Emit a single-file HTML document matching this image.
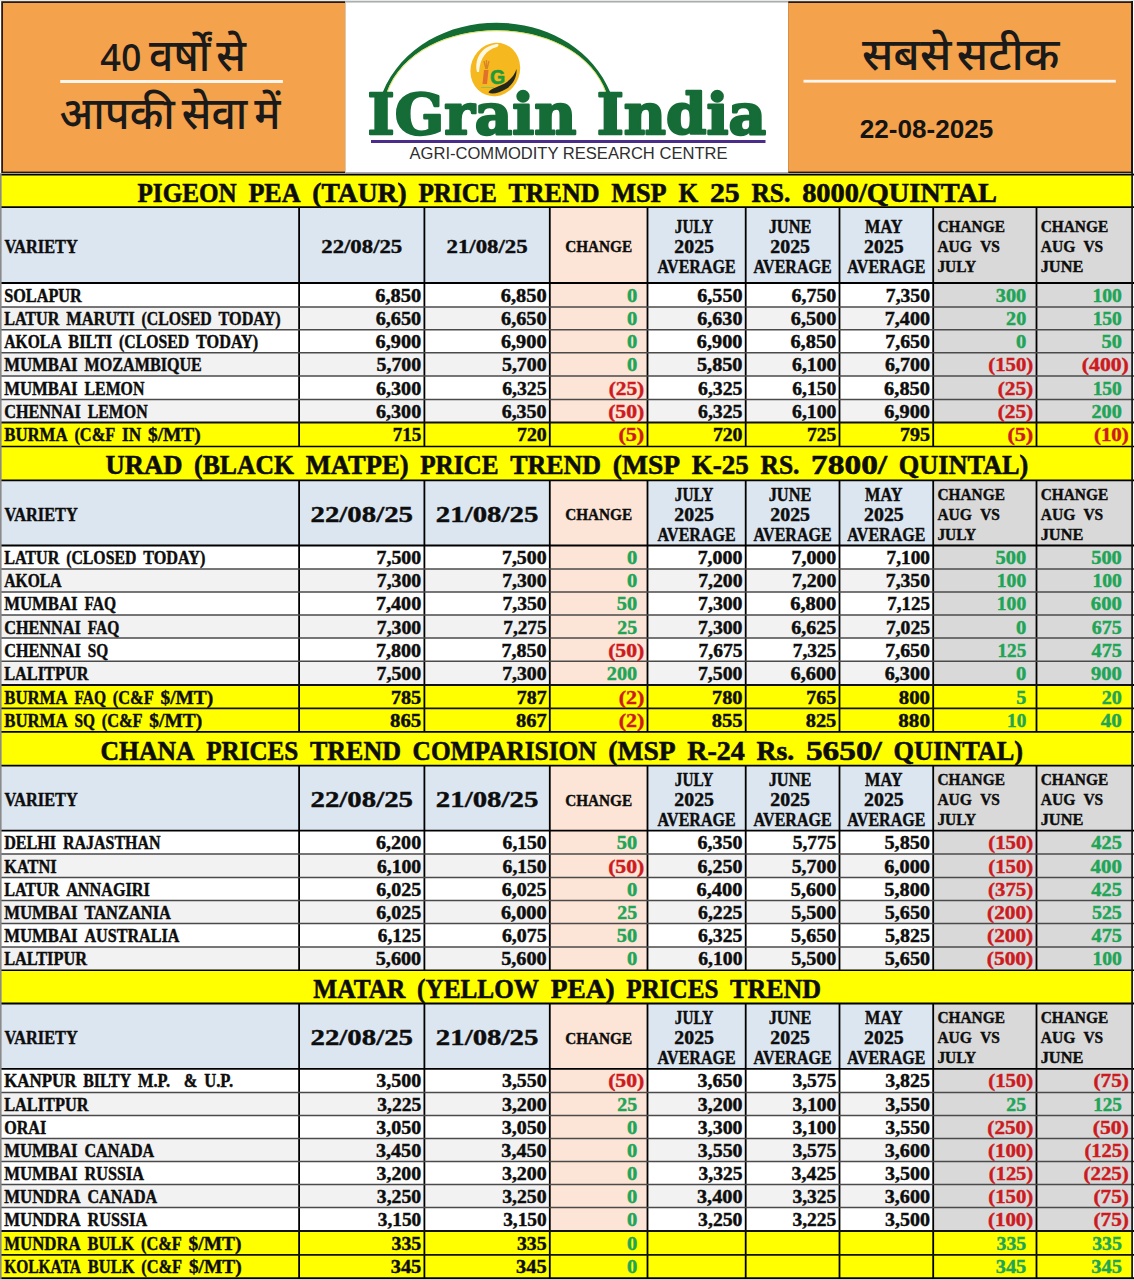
<!DOCTYPE html>
<html><head><meta charset="utf-8"><title>IGrain India - Pulses Price Trend 22-08-2025</title>
<style>
html,body{margin:0;padding:0;background:#fff;}
svg{display:block;}
svg text{font-family:"Liberation Serif","Noto Serif Devanagari",serif;font-weight:bold;white-space:pre;}
svg text.hi{font-family:"Liberation Sans","Noto Sans Devanagari","Mukta",sans-serif;font-weight:460;stroke:none;}
svg text.sans{font-family:"Liberation Sans",Arial,sans-serif;stroke:none;}
</style></head>
<body>
<svg width="1134" height="1280" viewBox="0 0 1134 1280">
<rect x="0" y="0" width="1134" height="1280" fill="#fff"/>
<g id="hdr">
<rect x="0" y="0" width="1134" height="1.2" fill="#e4e9ea"/>
<rect x="1.2" y="1.2" width="344" height="171.8" fill="#2b1a0a"/>
<rect x="3" y="3" width="342.2" height="168.6" fill="#F4A24C"/>
<rect x="345.2" y="1.3" width="443" height="1.1" fill="#8c8c8c"/>
<rect x="345.2" y="172.2" width="443" height="2" fill="#9a9a9a"/>
<rect x="788.2" y="1.2" width="344.6" height="171.8" fill="#2b1a0a"/>
<rect x="788.2" y="3" width="343" height="168.6" fill="#F4A24C"/>
<rect x="0" y="173" width="345.2" height="1.2" fill="#a0a0a0"/>
<rect x="788.2" y="173" width="345.8" height="1.2" fill="#a0a0a0"/>
<!-- left orange box -->
<text class="hi" x="100.6" y="71.2" font-size="38" fill="#1a1a1a" style="font-family:'Noto Sans Devanagari','Liberation Sans',sans-serif;font-weight:480" textLength="41" lengthAdjust="spacingAndGlyphs">40</text>
<text class="hi" x="149" y="71.2" font-size="44" fill="#1a1a1a" textLength="97" word-spacing="-6" lengthAdjust="spacingAndGlyphs">वर्षों से</text>
<rect x="60.2" y="80" width="222.7" height="3" fill="#fdf6ee"/>
<text class="hi" x="59.5" y="128.7" font-size="44" fill="#1a1a1a" textLength="221" word-spacing="-5" lengthAdjust="spacingAndGlyphs">आपकी सेवा में</text>
<!-- right orange box -->
<text class="hi" x="861.9" y="70.2" font-size="44" fill="#1a1a1a" textLength="197.5" word-spacing="-7" lengthAdjust="spacingAndGlyphs">सबसे सटीक</text>
<rect x="803.5" y="79.8" width="312.3" height="2.8" fill="#fdf6ee"/>
<text class="sans" x="859.8" y="138.2" font-size="25.4" fill="#141414" style="font-weight:bold" textLength="133.5" lengthAdjust="spacingAndGlyphs">22-08-2025</text>
<!-- logo -->
<path d="M382.4,93 C420.9,-0.7 572.1,-0.7 610.6,93 L606.6,93 C576.7,9.3 416.3,9.3 386.4,93 Z" fill="#126c33"/>
<path d="M386.9,93 C416.8,10 576.2,10 606.1,93" fill="none" stroke="#d5de3a" stroke-width="0.8"/>
<g transform="rotate(20 495.3 69.5)">
<ellipse cx="495.3" cy="69.5" rx="24.6" ry="27" fill="#F5B81E"/>
</g>
<path d="M477,72 C474,58 482,46 497,44 C499,44 499,46 497,47 C486,50 480,58 479,72 Z" fill="#fff8e0"/>
<path d="M488.5,92.5 C490,88 500,87 507,82 C512,78 515,74 516.5,69 C517,76 514,84 506,89 C500,92.5 492,95 488.5,92.5 Z" fill="#23281a"/>
<path d="M481,87.5 L494,87.5" stroke="#8fc050" stroke-width="1"/>
<path d="M484,70 L488.5,70 L487,84 L482.5,84 Z" fill="#e0702a"/>
<path d="M486,69 L484,61 M486.5,69 L486.5,60 M487,69 L489,61" stroke="#d9822a" stroke-width="1.3" fill="none"/>
<text x="490" y="84" font-size="19.5" fill="#1f9a3a" stroke="#1f9a3a" stroke-width="0.6" style="font-family:'Liberation Sans',sans-serif;font-weight:bold">G</text>
<text x="367.6" y="134.3" font-size="56" fill="#156c36" stroke="#156c36" stroke-width="2.4" stroke-linejoin="round" style="font-family:'DejaVu Serif','Liberation Serif',serif;font-weight:bold" textLength="398.5" lengthAdjust="spacingAndGlyphs">IGrain India</text>
<rect x="371" y="140" width="394.5" height="3" fill="#4a2d8a"/>
<text class="sans" x="409.5" y="158.7" font-size="16" fill="#2e2e2e" style="font-weight:normal" textLength="318" lengthAdjust="spacingAndGlyphs">AGRI-COMMODITY RESEARCH CENTRE</text>
</g>

<g>
<rect x="0.8" y="174.8" width="1131.3" height="32.3" fill="#FFFF00"/>
<rect x="0.8" y="207.1" width="298.3" height="75.9" fill="#DCE6F1"/>
<rect x="299.1" y="207.1" width="125.3" height="75.9" fill="#DCE6F1"/>
<rect x="424.4" y="207.1" width="125.4" height="75.9" fill="#DCE6F1"/>
<rect x="549.8" y="207.1" width="97.7" height="75.9" fill="#FCE4D6"/>
<rect x="647.5" y="207.1" width="98.2" height="75.9" fill="#DCE6F1"/>
<rect x="745.7" y="207.1" width="93.8" height="75.9" fill="#DCE6F1"/>
<rect x="839.5" y="207.1" width="93.7" height="75.9" fill="#DCE6F1"/>
<rect x="933.2" y="207.1" width="103.3" height="75.9" fill="#D9D9D9"/>
<rect x="1036.5" y="207.1" width="95.6" height="75.9" fill="#D9D9D9"/>
<rect x="0.8" y="283" width="298.3" height="23.9" fill="#FFFFFF"/>
<rect x="299.1" y="283" width="125.3" height="23.9" fill="#FFFFFF"/>
<rect x="424.4" y="283" width="125.4" height="23.9" fill="#FFFFFF"/>
<rect x="549.8" y="283" width="97.7" height="23.9" fill="#FCE4D6"/>
<rect x="647.5" y="283" width="98.2" height="23.9" fill="#FFFFFF"/>
<rect x="745.7" y="283" width="93.8" height="23.9" fill="#FFFFFF"/>
<rect x="839.5" y="283" width="93.7" height="23.9" fill="#FFFFFF"/>
<rect x="933.2" y="283" width="103.3" height="23.9" fill="#D9D9D9"/>
<rect x="1036.5" y="283" width="95.6" height="23.9" fill="#D9D9D9"/>
<rect x="0.8" y="306.9" width="298.3" height="22.9" fill="#F2F2F2"/>
<rect x="299.1" y="306.9" width="125.3" height="22.9" fill="#F2F2F2"/>
<rect x="424.4" y="306.9" width="125.4" height="22.9" fill="#F2F2F2"/>
<rect x="549.8" y="306.9" width="97.7" height="22.9" fill="#FCE4D6"/>
<rect x="647.5" y="306.9" width="98.2" height="22.9" fill="#F2F2F2"/>
<rect x="745.7" y="306.9" width="93.8" height="22.9" fill="#F2F2F2"/>
<rect x="839.5" y="306.9" width="93.7" height="22.9" fill="#F2F2F2"/>
<rect x="933.2" y="306.9" width="103.3" height="22.9" fill="#D9D9D9"/>
<rect x="1036.5" y="306.9" width="95.6" height="22.9" fill="#D9D9D9"/>
<rect x="0.8" y="329.8" width="298.3" height="23" fill="#FFFFFF"/>
<rect x="299.1" y="329.8" width="125.3" height="23" fill="#FFFFFF"/>
<rect x="424.4" y="329.8" width="125.4" height="23" fill="#FFFFFF"/>
<rect x="549.8" y="329.8" width="97.7" height="23" fill="#FCE4D6"/>
<rect x="647.5" y="329.8" width="98.2" height="23" fill="#FFFFFF"/>
<rect x="745.7" y="329.8" width="93.8" height="23" fill="#FFFFFF"/>
<rect x="839.5" y="329.8" width="93.7" height="23" fill="#FFFFFF"/>
<rect x="933.2" y="329.8" width="103.3" height="23" fill="#D9D9D9"/>
<rect x="1036.5" y="329.8" width="95.6" height="23" fill="#D9D9D9"/>
<rect x="0.8" y="352.8" width="298.3" height="23.3" fill="#F2F2F2"/>
<rect x="299.1" y="352.8" width="125.3" height="23.3" fill="#F2F2F2"/>
<rect x="424.4" y="352.8" width="125.4" height="23.3" fill="#F2F2F2"/>
<rect x="549.8" y="352.8" width="97.7" height="23.3" fill="#FCE4D6"/>
<rect x="647.5" y="352.8" width="98.2" height="23.3" fill="#F2F2F2"/>
<rect x="745.7" y="352.8" width="93.8" height="23.3" fill="#F2F2F2"/>
<rect x="839.5" y="352.8" width="93.7" height="23.3" fill="#F2F2F2"/>
<rect x="933.2" y="352.8" width="103.3" height="23.3" fill="#D9D9D9"/>
<rect x="1036.5" y="352.8" width="95.6" height="23.3" fill="#D9D9D9"/>
<rect x="0.8" y="376.1" width="298.3" height="23.3" fill="#FFFFFF"/>
<rect x="299.1" y="376.1" width="125.3" height="23.3" fill="#FFFFFF"/>
<rect x="424.4" y="376.1" width="125.4" height="23.3" fill="#FFFFFF"/>
<rect x="549.8" y="376.1" width="97.7" height="23.3" fill="#FCE4D6"/>
<rect x="647.5" y="376.1" width="98.2" height="23.3" fill="#FFFFFF"/>
<rect x="745.7" y="376.1" width="93.8" height="23.3" fill="#FFFFFF"/>
<rect x="839.5" y="376.1" width="93.7" height="23.3" fill="#FFFFFF"/>
<rect x="933.2" y="376.1" width="103.3" height="23.3" fill="#D9D9D9"/>
<rect x="1036.5" y="376.1" width="95.6" height="23.3" fill="#D9D9D9"/>
<rect x="0.8" y="399.4" width="298.3" height="23.1" fill="#F2F2F2"/>
<rect x="299.1" y="399.4" width="125.3" height="23.1" fill="#F2F2F2"/>
<rect x="424.4" y="399.4" width="125.4" height="23.1" fill="#F2F2F2"/>
<rect x="549.8" y="399.4" width="97.7" height="23.1" fill="#FCE4D6"/>
<rect x="647.5" y="399.4" width="98.2" height="23.1" fill="#F2F2F2"/>
<rect x="745.7" y="399.4" width="93.8" height="23.1" fill="#F2F2F2"/>
<rect x="839.5" y="399.4" width="93.7" height="23.1" fill="#F2F2F2"/>
<rect x="933.2" y="399.4" width="103.3" height="23.1" fill="#D9D9D9"/>
<rect x="1036.5" y="399.4" width="95.6" height="23.1" fill="#D9D9D9"/>
<rect x="0.8" y="422.5" width="298.3" height="24" fill="#FFFF00"/>
<rect x="299.1" y="422.5" width="125.3" height="24" fill="#FFFF00"/>
<rect x="424.4" y="422.5" width="125.4" height="24" fill="#FFFF00"/>
<rect x="549.8" y="422.5" width="97.7" height="24" fill="#FFFF00"/>
<rect x="647.5" y="422.5" width="98.2" height="24" fill="#FFFF00"/>
<rect x="745.7" y="422.5" width="93.8" height="24" fill="#FFFF00"/>
<rect x="839.5" y="422.5" width="93.7" height="24" fill="#FFFF00"/>
<rect x="933.2" y="422.5" width="103.3" height="24" fill="#FFFF00"/>
<rect x="1036.5" y="422.5" width="95.6" height="24" fill="#FFFF00"/>
<rect x="0.8" y="446.5" width="1131.3" height="33.8" fill="#FFFF00"/>
<rect x="0.8" y="480.3" width="298.3" height="65.2" fill="#DCE6F1"/>
<rect x="299.1" y="480.3" width="125.3" height="65.2" fill="#DCE6F1"/>
<rect x="424.4" y="480.3" width="125.4" height="65.2" fill="#DCE6F1"/>
<rect x="549.8" y="480.3" width="97.7" height="65.2" fill="#FCE4D6"/>
<rect x="647.5" y="480.3" width="98.2" height="65.2" fill="#DCE6F1"/>
<rect x="745.7" y="480.3" width="93.8" height="65.2" fill="#DCE6F1"/>
<rect x="839.5" y="480.3" width="93.7" height="65.2" fill="#DCE6F1"/>
<rect x="933.2" y="480.3" width="103.3" height="65.2" fill="#D9D9D9"/>
<rect x="1036.5" y="480.3" width="95.6" height="65.2" fill="#D9D9D9"/>
<rect x="0.8" y="545.5" width="298.3" height="23.4" fill="#FFFFFF"/>
<rect x="299.1" y="545.5" width="125.3" height="23.4" fill="#FFFFFF"/>
<rect x="424.4" y="545.5" width="125.4" height="23.4" fill="#FFFFFF"/>
<rect x="549.8" y="545.5" width="97.7" height="23.4" fill="#FCE4D6"/>
<rect x="647.5" y="545.5" width="98.2" height="23.4" fill="#FFFFFF"/>
<rect x="745.7" y="545.5" width="93.8" height="23.4" fill="#FFFFFF"/>
<rect x="839.5" y="545.5" width="93.7" height="23.4" fill="#FFFFFF"/>
<rect x="933.2" y="545.5" width="103.3" height="23.4" fill="#D9D9D9"/>
<rect x="1036.5" y="545.5" width="95.6" height="23.4" fill="#D9D9D9"/>
<rect x="0.8" y="568.9" width="298.3" height="23" fill="#F2F2F2"/>
<rect x="299.1" y="568.9" width="125.3" height="23" fill="#F2F2F2"/>
<rect x="424.4" y="568.9" width="125.4" height="23" fill="#F2F2F2"/>
<rect x="549.8" y="568.9" width="97.7" height="23" fill="#FCE4D6"/>
<rect x="647.5" y="568.9" width="98.2" height="23" fill="#F2F2F2"/>
<rect x="745.7" y="568.9" width="93.8" height="23" fill="#F2F2F2"/>
<rect x="839.5" y="568.9" width="93.7" height="23" fill="#F2F2F2"/>
<rect x="933.2" y="568.9" width="103.3" height="23" fill="#D9D9D9"/>
<rect x="1036.5" y="568.9" width="95.6" height="23" fill="#D9D9D9"/>
<rect x="0.8" y="591.9" width="298.3" height="23.1" fill="#FFFFFF"/>
<rect x="299.1" y="591.9" width="125.3" height="23.1" fill="#FFFFFF"/>
<rect x="424.4" y="591.9" width="125.4" height="23.1" fill="#FFFFFF"/>
<rect x="549.8" y="591.9" width="97.7" height="23.1" fill="#FCE4D6"/>
<rect x="647.5" y="591.9" width="98.2" height="23.1" fill="#FFFFFF"/>
<rect x="745.7" y="591.9" width="93.8" height="23.1" fill="#FFFFFF"/>
<rect x="839.5" y="591.9" width="93.7" height="23.1" fill="#FFFFFF"/>
<rect x="933.2" y="591.9" width="103.3" height="23.1" fill="#D9D9D9"/>
<rect x="1036.5" y="591.9" width="95.6" height="23.1" fill="#D9D9D9"/>
<rect x="0.8" y="615" width="298.3" height="23" fill="#F2F2F2"/>
<rect x="299.1" y="615" width="125.3" height="23" fill="#F2F2F2"/>
<rect x="424.4" y="615" width="125.4" height="23" fill="#F2F2F2"/>
<rect x="549.8" y="615" width="97.7" height="23" fill="#FCE4D6"/>
<rect x="647.5" y="615" width="98.2" height="23" fill="#F2F2F2"/>
<rect x="745.7" y="615" width="93.8" height="23" fill="#F2F2F2"/>
<rect x="839.5" y="615" width="93.7" height="23" fill="#F2F2F2"/>
<rect x="933.2" y="615" width="103.3" height="23" fill="#D9D9D9"/>
<rect x="1036.5" y="615" width="95.6" height="23" fill="#D9D9D9"/>
<rect x="0.8" y="638" width="298.3" height="23.3" fill="#FFFFFF"/>
<rect x="299.1" y="638" width="125.3" height="23.3" fill="#FFFFFF"/>
<rect x="424.4" y="638" width="125.4" height="23.3" fill="#FFFFFF"/>
<rect x="549.8" y="638" width="97.7" height="23.3" fill="#FCE4D6"/>
<rect x="647.5" y="638" width="98.2" height="23.3" fill="#FFFFFF"/>
<rect x="745.7" y="638" width="93.8" height="23.3" fill="#FFFFFF"/>
<rect x="839.5" y="638" width="93.7" height="23.3" fill="#FFFFFF"/>
<rect x="933.2" y="638" width="103.3" height="23.3" fill="#D9D9D9"/>
<rect x="1036.5" y="638" width="95.6" height="23.3" fill="#D9D9D9"/>
<rect x="0.8" y="661.3" width="298.3" height="23.7" fill="#F2F2F2"/>
<rect x="299.1" y="661.3" width="125.3" height="23.7" fill="#F2F2F2"/>
<rect x="424.4" y="661.3" width="125.4" height="23.7" fill="#F2F2F2"/>
<rect x="549.8" y="661.3" width="97.7" height="23.7" fill="#FCE4D6"/>
<rect x="647.5" y="661.3" width="98.2" height="23.7" fill="#F2F2F2"/>
<rect x="745.7" y="661.3" width="93.8" height="23.7" fill="#F2F2F2"/>
<rect x="839.5" y="661.3" width="93.7" height="23.7" fill="#F2F2F2"/>
<rect x="933.2" y="661.3" width="103.3" height="23.7" fill="#D9D9D9"/>
<rect x="1036.5" y="661.3" width="95.6" height="23.7" fill="#D9D9D9"/>
<rect x="0.8" y="685" width="298.3" height="23.4" fill="#FFFF00"/>
<rect x="299.1" y="685" width="125.3" height="23.4" fill="#FFFF00"/>
<rect x="424.4" y="685" width="125.4" height="23.4" fill="#FFFF00"/>
<rect x="549.8" y="685" width="97.7" height="23.4" fill="#FFFF00"/>
<rect x="647.5" y="685" width="98.2" height="23.4" fill="#FFFF00"/>
<rect x="745.7" y="685" width="93.8" height="23.4" fill="#FFFF00"/>
<rect x="839.5" y="685" width="93.7" height="23.4" fill="#FFFF00"/>
<rect x="933.2" y="685" width="103.3" height="23.4" fill="#FFFF00"/>
<rect x="1036.5" y="685" width="95.6" height="23.4" fill="#FFFF00"/>
<rect x="0.8" y="708.4" width="298.3" height="23.5" fill="#FFFF00"/>
<rect x="299.1" y="708.4" width="125.3" height="23.5" fill="#FFFF00"/>
<rect x="424.4" y="708.4" width="125.4" height="23.5" fill="#FFFF00"/>
<rect x="549.8" y="708.4" width="97.7" height="23.5" fill="#FFFF00"/>
<rect x="647.5" y="708.4" width="98.2" height="23.5" fill="#FFFF00"/>
<rect x="745.7" y="708.4" width="93.8" height="23.5" fill="#FFFF00"/>
<rect x="839.5" y="708.4" width="93.7" height="23.5" fill="#FFFF00"/>
<rect x="933.2" y="708.4" width="103.3" height="23.5" fill="#FFFF00"/>
<rect x="1036.5" y="708.4" width="95.6" height="23.5" fill="#FFFF00"/>
<rect x="0.8" y="731.9" width="1131.3" height="33.7" fill="#FFFF00"/>
<rect x="0.8" y="765.6" width="298.3" height="65" fill="#DCE6F1"/>
<rect x="299.1" y="765.6" width="125.3" height="65" fill="#DCE6F1"/>
<rect x="424.4" y="765.6" width="125.4" height="65" fill="#DCE6F1"/>
<rect x="549.8" y="765.6" width="97.7" height="65" fill="#FCE4D6"/>
<rect x="647.5" y="765.6" width="98.2" height="65" fill="#DCE6F1"/>
<rect x="745.7" y="765.6" width="93.8" height="65" fill="#DCE6F1"/>
<rect x="839.5" y="765.6" width="93.7" height="65" fill="#DCE6F1"/>
<rect x="933.2" y="765.6" width="103.3" height="65" fill="#D9D9D9"/>
<rect x="1036.5" y="765.6" width="95.6" height="65" fill="#D9D9D9"/>
<rect x="0.8" y="830.6" width="298.3" height="23.5" fill="#FFFFFF"/>
<rect x="299.1" y="830.6" width="125.3" height="23.5" fill="#FFFFFF"/>
<rect x="424.4" y="830.6" width="125.4" height="23.5" fill="#FFFFFF"/>
<rect x="549.8" y="830.6" width="97.7" height="23.5" fill="#FCE4D6"/>
<rect x="647.5" y="830.6" width="98.2" height="23.5" fill="#FFFFFF"/>
<rect x="745.7" y="830.6" width="93.8" height="23.5" fill="#FFFFFF"/>
<rect x="839.5" y="830.6" width="93.7" height="23.5" fill="#FFFFFF"/>
<rect x="933.2" y="830.6" width="103.3" height="23.5" fill="#D9D9D9"/>
<rect x="1036.5" y="830.6" width="95.6" height="23.5" fill="#D9D9D9"/>
<rect x="0.8" y="854.1" width="298.3" height="23.4" fill="#F2F2F2"/>
<rect x="299.1" y="854.1" width="125.3" height="23.4" fill="#F2F2F2"/>
<rect x="424.4" y="854.1" width="125.4" height="23.4" fill="#F2F2F2"/>
<rect x="549.8" y="854.1" width="97.7" height="23.4" fill="#FCE4D6"/>
<rect x="647.5" y="854.1" width="98.2" height="23.4" fill="#F2F2F2"/>
<rect x="745.7" y="854.1" width="93.8" height="23.4" fill="#F2F2F2"/>
<rect x="839.5" y="854.1" width="93.7" height="23.4" fill="#F2F2F2"/>
<rect x="933.2" y="854.1" width="103.3" height="23.4" fill="#D9D9D9"/>
<rect x="1036.5" y="854.1" width="95.6" height="23.4" fill="#D9D9D9"/>
<rect x="0.8" y="877.5" width="298.3" height="23" fill="#FFFFFF"/>
<rect x="299.1" y="877.5" width="125.3" height="23" fill="#FFFFFF"/>
<rect x="424.4" y="877.5" width="125.4" height="23" fill="#FFFFFF"/>
<rect x="549.8" y="877.5" width="97.7" height="23" fill="#FCE4D6"/>
<rect x="647.5" y="877.5" width="98.2" height="23" fill="#FFFFFF"/>
<rect x="745.7" y="877.5" width="93.8" height="23" fill="#FFFFFF"/>
<rect x="839.5" y="877.5" width="93.7" height="23" fill="#FFFFFF"/>
<rect x="933.2" y="877.5" width="103.3" height="23" fill="#D9D9D9"/>
<rect x="1036.5" y="877.5" width="95.6" height="23" fill="#D9D9D9"/>
<rect x="0.8" y="900.5" width="298.3" height="22.9" fill="#F2F2F2"/>
<rect x="299.1" y="900.5" width="125.3" height="22.9" fill="#F2F2F2"/>
<rect x="424.4" y="900.5" width="125.4" height="22.9" fill="#F2F2F2"/>
<rect x="549.8" y="900.5" width="97.7" height="22.9" fill="#FCE4D6"/>
<rect x="647.5" y="900.5" width="98.2" height="22.9" fill="#F2F2F2"/>
<rect x="745.7" y="900.5" width="93.8" height="22.9" fill="#F2F2F2"/>
<rect x="839.5" y="900.5" width="93.7" height="22.9" fill="#F2F2F2"/>
<rect x="933.2" y="900.5" width="103.3" height="22.9" fill="#D9D9D9"/>
<rect x="1036.5" y="900.5" width="95.6" height="22.9" fill="#D9D9D9"/>
<rect x="0.8" y="923.4" width="298.3" height="23.5" fill="#FFFFFF"/>
<rect x="299.1" y="923.4" width="125.3" height="23.5" fill="#FFFFFF"/>
<rect x="424.4" y="923.4" width="125.4" height="23.5" fill="#FFFFFF"/>
<rect x="549.8" y="923.4" width="97.7" height="23.5" fill="#FCE4D6"/>
<rect x="647.5" y="923.4" width="98.2" height="23.5" fill="#FFFFFF"/>
<rect x="745.7" y="923.4" width="93.8" height="23.5" fill="#FFFFFF"/>
<rect x="839.5" y="923.4" width="93.7" height="23.5" fill="#FFFFFF"/>
<rect x="933.2" y="923.4" width="103.3" height="23.5" fill="#D9D9D9"/>
<rect x="1036.5" y="923.4" width="95.6" height="23.5" fill="#D9D9D9"/>
<rect x="0.8" y="946.9" width="298.3" height="23.4" fill="#F2F2F2"/>
<rect x="299.1" y="946.9" width="125.3" height="23.4" fill="#F2F2F2"/>
<rect x="424.4" y="946.9" width="125.4" height="23.4" fill="#F2F2F2"/>
<rect x="549.8" y="946.9" width="97.7" height="23.4" fill="#FCE4D6"/>
<rect x="647.5" y="946.9" width="98.2" height="23.4" fill="#F2F2F2"/>
<rect x="745.7" y="946.9" width="93.8" height="23.4" fill="#F2F2F2"/>
<rect x="839.5" y="946.9" width="93.7" height="23.4" fill="#F2F2F2"/>
<rect x="933.2" y="946.9" width="103.3" height="23.4" fill="#D9D9D9"/>
<rect x="1036.5" y="946.9" width="95.6" height="23.4" fill="#D9D9D9"/>
<rect x="0.8" y="970.3" width="1131.3" height="33.2" fill="#FFFF00"/>
<rect x="0.8" y="1003.5" width="298.3" height="65.3" fill="#DCE6F1"/>
<rect x="299.1" y="1003.5" width="125.3" height="65.3" fill="#DCE6F1"/>
<rect x="424.4" y="1003.5" width="125.4" height="65.3" fill="#DCE6F1"/>
<rect x="549.8" y="1003.5" width="97.7" height="65.3" fill="#FCE4D6"/>
<rect x="647.5" y="1003.5" width="98.2" height="65.3" fill="#DCE6F1"/>
<rect x="745.7" y="1003.5" width="93.8" height="65.3" fill="#DCE6F1"/>
<rect x="839.5" y="1003.5" width="93.7" height="65.3" fill="#DCE6F1"/>
<rect x="933.2" y="1003.5" width="103.3" height="65.3" fill="#D9D9D9"/>
<rect x="1036.5" y="1003.5" width="95.6" height="65.3" fill="#D9D9D9"/>
<rect x="0.8" y="1068.8" width="298.3" height="23.7" fill="#FFFFFF"/>
<rect x="299.1" y="1068.8" width="125.3" height="23.7" fill="#FFFFFF"/>
<rect x="424.4" y="1068.8" width="125.4" height="23.7" fill="#FFFFFF"/>
<rect x="549.8" y="1068.8" width="97.7" height="23.7" fill="#FCE4D6"/>
<rect x="647.5" y="1068.8" width="98.2" height="23.7" fill="#FFFFFF"/>
<rect x="745.7" y="1068.8" width="93.8" height="23.7" fill="#FFFFFF"/>
<rect x="839.5" y="1068.8" width="93.7" height="23.7" fill="#FFFFFF"/>
<rect x="933.2" y="1068.8" width="103.3" height="23.7" fill="#D9D9D9"/>
<rect x="1036.5" y="1068.8" width="95.6" height="23.7" fill="#D9D9D9"/>
<rect x="0.8" y="1092.5" width="298.3" height="23.1" fill="#F2F2F2"/>
<rect x="299.1" y="1092.5" width="125.3" height="23.1" fill="#F2F2F2"/>
<rect x="424.4" y="1092.5" width="125.4" height="23.1" fill="#F2F2F2"/>
<rect x="549.8" y="1092.5" width="97.7" height="23.1" fill="#FCE4D6"/>
<rect x="647.5" y="1092.5" width="98.2" height="23.1" fill="#F2F2F2"/>
<rect x="745.7" y="1092.5" width="93.8" height="23.1" fill="#F2F2F2"/>
<rect x="839.5" y="1092.5" width="93.7" height="23.1" fill="#F2F2F2"/>
<rect x="933.2" y="1092.5" width="103.3" height="23.1" fill="#D9D9D9"/>
<rect x="1036.5" y="1092.5" width="95.6" height="23.1" fill="#D9D9D9"/>
<rect x="0.8" y="1115.6" width="298.3" height="22.9" fill="#FFFFFF"/>
<rect x="299.1" y="1115.6" width="125.3" height="22.9" fill="#FFFFFF"/>
<rect x="424.4" y="1115.6" width="125.4" height="22.9" fill="#FFFFFF"/>
<rect x="549.8" y="1115.6" width="97.7" height="22.9" fill="#FCE4D6"/>
<rect x="647.5" y="1115.6" width="98.2" height="22.9" fill="#FFFFFF"/>
<rect x="745.7" y="1115.6" width="93.8" height="22.9" fill="#FFFFFF"/>
<rect x="839.5" y="1115.6" width="93.7" height="22.9" fill="#FFFFFF"/>
<rect x="933.2" y="1115.6" width="103.3" height="22.9" fill="#D9D9D9"/>
<rect x="1036.5" y="1115.6" width="95.6" height="22.9" fill="#D9D9D9"/>
<rect x="0.8" y="1138.5" width="298.3" height="23" fill="#F2F2F2"/>
<rect x="299.1" y="1138.5" width="125.3" height="23" fill="#F2F2F2"/>
<rect x="424.4" y="1138.5" width="125.4" height="23" fill="#F2F2F2"/>
<rect x="549.8" y="1138.5" width="97.7" height="23" fill="#FCE4D6"/>
<rect x="647.5" y="1138.5" width="98.2" height="23" fill="#F2F2F2"/>
<rect x="745.7" y="1138.5" width="93.8" height="23" fill="#F2F2F2"/>
<rect x="839.5" y="1138.5" width="93.7" height="23" fill="#F2F2F2"/>
<rect x="933.2" y="1138.5" width="103.3" height="23" fill="#D9D9D9"/>
<rect x="1036.5" y="1138.5" width="95.6" height="23" fill="#D9D9D9"/>
<rect x="0.8" y="1161.5" width="298.3" height="23.1" fill="#FFFFFF"/>
<rect x="299.1" y="1161.5" width="125.3" height="23.1" fill="#FFFFFF"/>
<rect x="424.4" y="1161.5" width="125.4" height="23.1" fill="#FFFFFF"/>
<rect x="549.8" y="1161.5" width="97.7" height="23.1" fill="#FCE4D6"/>
<rect x="647.5" y="1161.5" width="98.2" height="23.1" fill="#FFFFFF"/>
<rect x="745.7" y="1161.5" width="93.8" height="23.1" fill="#FFFFFF"/>
<rect x="839.5" y="1161.5" width="93.7" height="23.1" fill="#FFFFFF"/>
<rect x="933.2" y="1161.5" width="103.3" height="23.1" fill="#D9D9D9"/>
<rect x="1036.5" y="1161.5" width="95.6" height="23.1" fill="#D9D9D9"/>
<rect x="0.8" y="1184.6" width="298.3" height="23" fill="#F2F2F2"/>
<rect x="299.1" y="1184.6" width="125.3" height="23" fill="#F2F2F2"/>
<rect x="424.4" y="1184.6" width="125.4" height="23" fill="#F2F2F2"/>
<rect x="549.8" y="1184.6" width="97.7" height="23" fill="#FCE4D6"/>
<rect x="647.5" y="1184.6" width="98.2" height="23" fill="#F2F2F2"/>
<rect x="745.7" y="1184.6" width="93.8" height="23" fill="#F2F2F2"/>
<rect x="839.5" y="1184.6" width="93.7" height="23" fill="#F2F2F2"/>
<rect x="933.2" y="1184.6" width="103.3" height="23" fill="#D9D9D9"/>
<rect x="1036.5" y="1184.6" width="95.6" height="23" fill="#D9D9D9"/>
<rect x="0.8" y="1207.6" width="298.3" height="23.4" fill="#FFFFFF"/>
<rect x="299.1" y="1207.6" width="125.3" height="23.4" fill="#FFFFFF"/>
<rect x="424.4" y="1207.6" width="125.4" height="23.4" fill="#FFFFFF"/>
<rect x="549.8" y="1207.6" width="97.7" height="23.4" fill="#FCE4D6"/>
<rect x="647.5" y="1207.6" width="98.2" height="23.4" fill="#FFFFFF"/>
<rect x="745.7" y="1207.6" width="93.8" height="23.4" fill="#FFFFFF"/>
<rect x="839.5" y="1207.6" width="93.7" height="23.4" fill="#FFFFFF"/>
<rect x="933.2" y="1207.6" width="103.3" height="23.4" fill="#D9D9D9"/>
<rect x="1036.5" y="1207.6" width="95.6" height="23.4" fill="#D9D9D9"/>
<rect x="0.8" y="1231" width="298.3" height="23.9" fill="#FFFF00"/>
<rect x="299.1" y="1231" width="125.3" height="23.9" fill="#FFFF00"/>
<rect x="424.4" y="1231" width="125.4" height="23.9" fill="#FFFF00"/>
<rect x="549.8" y="1231" width="97.7" height="23.9" fill="#FFFF00"/>
<rect x="647.5" y="1231" width="98.2" height="23.9" fill="#FFFF00"/>
<rect x="745.7" y="1231" width="93.8" height="23.9" fill="#FFFF00"/>
<rect x="839.5" y="1231" width="93.7" height="23.9" fill="#FFFF00"/>
<rect x="933.2" y="1231" width="103.3" height="23.9" fill="#FFFF00"/>
<rect x="1036.5" y="1231" width="95.6" height="23.9" fill="#FFFF00"/>
<rect x="0.8" y="1254.9" width="298.3" height="23.2" fill="#FFFF00"/>
<rect x="299.1" y="1254.9" width="125.3" height="23.2" fill="#FFFF00"/>
<rect x="424.4" y="1254.9" width="125.4" height="23.2" fill="#FFFF00"/>
<rect x="549.8" y="1254.9" width="97.7" height="23.2" fill="#FFFF00"/>
<rect x="647.5" y="1254.9" width="98.2" height="23.2" fill="#FFFF00"/>
<rect x="745.7" y="1254.9" width="93.8" height="23.2" fill="#FFFF00"/>
<rect x="839.5" y="1254.9" width="93.7" height="23.2" fill="#FFFF00"/>
<rect x="933.2" y="1254.9" width="103.3" height="23.2" fill="#FFFF00"/>
<rect x="1036.5" y="1254.9" width="95.6" height="23.2" fill="#FFFF00"/>
<rect x="0" y="1279" width="1134" height="1" fill="#cfcfcf"/>
</g>
<g>
<line x1="299.1" y1="207.1" x2="299.1" y2="446.5" stroke="#000" stroke-width="1.8"/>
<line x1="424.4" y1="207.1" x2="424.4" y2="446.5" stroke="#000" stroke-width="1.8"/>
<line x1="549.8" y1="207.1" x2="549.8" y2="446.5" stroke="#000" stroke-width="1.8"/>
<line x1="647.5" y1="207.1" x2="647.5" y2="446.5" stroke="#000" stroke-width="1.8"/>
<line x1="745.7" y1="207.1" x2="745.7" y2="446.5" stroke="#000" stroke-width="1.8"/>
<line x1="839.5" y1="207.1" x2="839.5" y2="446.5" stroke="#000" stroke-width="1.8"/>
<line x1="933.2" y1="207.1" x2="933.2" y2="446.5" stroke="#000" stroke-width="1.8"/>
<line x1="1036.5" y1="207.1" x2="1036.5" y2="446.5" stroke="#000" stroke-width="1.8"/>
<line x1="0" y1="174.8" x2="1134" y2="174.8" stroke="#000" stroke-width="1.6"/>
<line x1="0" y1="207.1" x2="1134" y2="207.1" stroke="#000" stroke-width="1.8"/>
<line x1="0" y1="283" x2="1134" y2="283" stroke="#000" stroke-width="1.8"/>
<line x1="0" y1="306.9" x2="1134" y2="306.9" stroke="#4a4a4a" stroke-width="1.5"/>
<line x1="0" y1="329.8" x2="1134" y2="329.8" stroke="#4a4a4a" stroke-width="1.5"/>
<line x1="0" y1="352.8" x2="1134" y2="352.8" stroke="#4a4a4a" stroke-width="1.5"/>
<line x1="0" y1="376.1" x2="1134" y2="376.1" stroke="#4a4a4a" stroke-width="1.5"/>
<line x1="0" y1="399.4" x2="1134" y2="399.4" stroke="#4a4a4a" stroke-width="1.5"/>
<line x1="0" y1="422.5" x2="1134" y2="422.5" stroke="#111" stroke-width="1.8"/>
<line x1="299.1" y1="480.3" x2="299.1" y2="731.9" stroke="#000" stroke-width="1.8"/>
<line x1="424.4" y1="480.3" x2="424.4" y2="731.9" stroke="#000" stroke-width="1.8"/>
<line x1="549.8" y1="480.3" x2="549.8" y2="731.9" stroke="#000" stroke-width="1.8"/>
<line x1="647.5" y1="480.3" x2="647.5" y2="731.9" stroke="#000" stroke-width="1.8"/>
<line x1="745.7" y1="480.3" x2="745.7" y2="731.9" stroke="#000" stroke-width="1.8"/>
<line x1="839.5" y1="480.3" x2="839.5" y2="731.9" stroke="#000" stroke-width="1.8"/>
<line x1="933.2" y1="480.3" x2="933.2" y2="731.9" stroke="#000" stroke-width="1.8"/>
<line x1="1036.5" y1="480.3" x2="1036.5" y2="731.9" stroke="#000" stroke-width="1.8"/>
<line x1="0" y1="446.5" x2="1134" y2="446.5" stroke="#000" stroke-width="1.6"/>
<line x1="0" y1="480.3" x2="1134" y2="480.3" stroke="#000" stroke-width="1.8"/>
<line x1="0" y1="545.5" x2="1134" y2="545.5" stroke="#000" stroke-width="1.8"/>
<line x1="0" y1="568.9" x2="1134" y2="568.9" stroke="#4a4a4a" stroke-width="1.5"/>
<line x1="0" y1="591.9" x2="1134" y2="591.9" stroke="#4a4a4a" stroke-width="1.5"/>
<line x1="0" y1="615" x2="1134" y2="615" stroke="#4a4a4a" stroke-width="1.5"/>
<line x1="0" y1="638" x2="1134" y2="638" stroke="#4a4a4a" stroke-width="1.5"/>
<line x1="0" y1="661.3" x2="1134" y2="661.3" stroke="#4a4a4a" stroke-width="1.5"/>
<line x1="0" y1="685" x2="1134" y2="685" stroke="#111" stroke-width="1.8"/>
<line x1="0" y1="708.4" x2="1134" y2="708.4" stroke="#111" stroke-width="1.8"/>
<line x1="299.1" y1="765.6" x2="299.1" y2="970.3" stroke="#000" stroke-width="1.8"/>
<line x1="424.4" y1="765.6" x2="424.4" y2="970.3" stroke="#000" stroke-width="1.8"/>
<line x1="549.8" y1="765.6" x2="549.8" y2="970.3" stroke="#000" stroke-width="1.8"/>
<line x1="647.5" y1="765.6" x2="647.5" y2="970.3" stroke="#000" stroke-width="1.8"/>
<line x1="745.7" y1="765.6" x2="745.7" y2="970.3" stroke="#000" stroke-width="1.8"/>
<line x1="839.5" y1="765.6" x2="839.5" y2="970.3" stroke="#000" stroke-width="1.8"/>
<line x1="933.2" y1="765.6" x2="933.2" y2="970.3" stroke="#000" stroke-width="1.8"/>
<line x1="1036.5" y1="765.6" x2="1036.5" y2="970.3" stroke="#000" stroke-width="1.8"/>
<line x1="0" y1="731.9" x2="1134" y2="731.9" stroke="#000" stroke-width="1.6"/>
<line x1="0" y1="765.6" x2="1134" y2="765.6" stroke="#000" stroke-width="1.8"/>
<line x1="0" y1="830.6" x2="1134" y2="830.6" stroke="#000" stroke-width="1.8"/>
<line x1="0" y1="854.1" x2="1134" y2="854.1" stroke="#4a4a4a" stroke-width="1.5"/>
<line x1="0" y1="877.5" x2="1134" y2="877.5" stroke="#4a4a4a" stroke-width="1.5"/>
<line x1="0" y1="900.5" x2="1134" y2="900.5" stroke="#4a4a4a" stroke-width="1.5"/>
<line x1="0" y1="923.4" x2="1134" y2="923.4" stroke="#4a4a4a" stroke-width="1.5"/>
<line x1="0" y1="946.9" x2="1134" y2="946.9" stroke="#4a4a4a" stroke-width="1.5"/>
<line x1="299.1" y1="1003.5" x2="299.1" y2="1278.1" stroke="#000" stroke-width="1.8"/>
<line x1="424.4" y1="1003.5" x2="424.4" y2="1278.1" stroke="#000" stroke-width="1.8"/>
<line x1="549.8" y1="1003.5" x2="549.8" y2="1278.1" stroke="#000" stroke-width="1.8"/>
<line x1="647.5" y1="1003.5" x2="647.5" y2="1278.1" stroke="#000" stroke-width="1.8"/>
<line x1="745.7" y1="1003.5" x2="745.7" y2="1278.1" stroke="#000" stroke-width="1.8"/>
<line x1="839.5" y1="1003.5" x2="839.5" y2="1278.1" stroke="#000" stroke-width="1.8"/>
<line x1="933.2" y1="1003.5" x2="933.2" y2="1278.1" stroke="#000" stroke-width="1.8"/>
<line x1="1036.5" y1="1003.5" x2="1036.5" y2="1278.1" stroke="#000" stroke-width="1.8"/>
<line x1="0" y1="970.3" x2="1134" y2="970.3" stroke="#000" stroke-width="1.6"/>
<line x1="0" y1="1003.5" x2="1134" y2="1003.5" stroke="#000" stroke-width="1.8"/>
<line x1="0" y1="1068.8" x2="1134" y2="1068.8" stroke="#000" stroke-width="1.8"/>
<line x1="0" y1="1092.5" x2="1134" y2="1092.5" stroke="#4a4a4a" stroke-width="1.5"/>
<line x1="0" y1="1115.6" x2="1134" y2="1115.6" stroke="#4a4a4a" stroke-width="1.5"/>
<line x1="0" y1="1138.5" x2="1134" y2="1138.5" stroke="#4a4a4a" stroke-width="1.5"/>
<line x1="0" y1="1161.5" x2="1134" y2="1161.5" stroke="#4a4a4a" stroke-width="1.5"/>
<line x1="0" y1="1184.6" x2="1134" y2="1184.6" stroke="#4a4a4a" stroke-width="1.5"/>
<line x1="0" y1="1207.6" x2="1134" y2="1207.6" stroke="#4a4a4a" stroke-width="1.5"/>
<line x1="0" y1="1231" x2="1134" y2="1231" stroke="#111" stroke-width="1.8"/>
<line x1="0" y1="1254.9" x2="1134" y2="1254.9" stroke="#111" stroke-width="1.8"/>
<line x1="0" y1="1278.1" x2="1134" y2="1278.1" stroke="#000" stroke-width="1.6"/>
<line x1="0.8" y1="174" x2="0.8" y2="1279" stroke="#8a8a8a" stroke-width="1.6"/>
<line x1="1132.1" y1="1" x2="1132.1" y2="1279" stroke="#111" stroke-width="1.7"/>
</g>
<g fill="#0d0d0d" stroke="#0d0d0d" stroke-width="0.42">
<text x="137.5" y="202.3" font-size="28.2" textLength="99.16" lengthAdjust="spacingAndGlyphs" stroke-width="0.6">PIGEON</text>
<text x="248.42" y="202.3" font-size="28.2" textLength="52.16" lengthAdjust="spacingAndGlyphs" stroke-width="0.6">PEA</text>
<text x="312.35" y="202.3" font-size="28.2" textLength="94.31" lengthAdjust="spacingAndGlyphs" stroke-width="0.6">(TAUR)</text>
<text x="418.43" y="202.3" font-size="28.2" textLength="78.34" lengthAdjust="spacingAndGlyphs" stroke-width="0.6">PRICE</text>
<text x="508.52" y="202.3" font-size="28.2" textLength="90.95" lengthAdjust="spacingAndGlyphs" stroke-width="0.6">TREND</text>
<text x="611.24" y="202.3" font-size="28.2" textLength="55.42" lengthAdjust="spacingAndGlyphs" stroke-width="0.6">MSP</text>
<text x="678.43" y="202.3" font-size="28.2" textLength="19.73" lengthAdjust="spacingAndGlyphs" stroke-width="0.6">K</text>
<text x="709.93" y="202.3" font-size="28.2" textLength="29.8" lengthAdjust="spacingAndGlyphs" stroke-width="0.6">25</text>
<text x="751.48" y="202.3" font-size="28.2" textLength="38.95" lengthAdjust="spacingAndGlyphs" stroke-width="0.6">RS.</text>
<text x="802.2" y="202.3" font-size="28.2" textLength="194.8" lengthAdjust="spacingAndGlyphs" stroke-width="0.6">8000/QUINTAL</text>
<text x="4.6" y="252.75" font-size="18.4" textLength="73.2" lengthAdjust="spacingAndGlyphs">VARIETY</text>
<text x="361.75" y="253.05" font-size="19.2" text-anchor="middle" textLength="81" lengthAdjust="spacingAndGlyphs">22/08/25</text>
<text x="487.1" y="253.05" font-size="19.2" text-anchor="middle" textLength="81" lengthAdjust="spacingAndGlyphs">21/08/25</text>
<text x="598.65" y="252.45" font-size="17.2" text-anchor="middle" textLength="67" lengthAdjust="spacingAndGlyphs">CHANGE</text>
<text x="694" y="232.75" font-size="18.2" text-anchor="middle" textLength="38.39" lengthAdjust="spacingAndGlyphs">JULY</text>
<text x="694.2" y="252.75" font-size="18.2" text-anchor="middle" textLength="39.64" lengthAdjust="spacingAndGlyphs">2025</text>
<text x="696.6" y="272.75" font-size="18.2" text-anchor="middle" textLength="78" lengthAdjust="spacingAndGlyphs">AVERAGE</text>
<text x="790" y="232.75" font-size="18.2" text-anchor="middle" textLength="42.61" lengthAdjust="spacingAndGlyphs">JUNE</text>
<text x="790.2" y="252.75" font-size="18.2" text-anchor="middle" textLength="39.64" lengthAdjust="spacingAndGlyphs">2025</text>
<text x="792.6" y="272.75" font-size="18.2" text-anchor="middle" textLength="78" lengthAdjust="spacingAndGlyphs">AVERAGE</text>
<text x="883.75" y="232.75" font-size="18.2" text-anchor="middle" textLength="37.38" lengthAdjust="spacingAndGlyphs">MAY</text>
<text x="883.95" y="252.75" font-size="18.2" text-anchor="middle" textLength="39.64" lengthAdjust="spacingAndGlyphs">2025</text>
<text x="886.35" y="272.75" font-size="18.2" text-anchor="middle" textLength="78" lengthAdjust="spacingAndGlyphs">AVERAGE</text>
<text x="937.4" y="232.25" font-size="17.0" textLength="67.5" lengthAdjust="spacingAndGlyphs">CHANGE</text>
<text x="937.4" y="252.25" font-size="17.0" textLength="34.55" lengthAdjust="spacingAndGlyphs">AUG</text>
<text x="980.13" y="252.25" font-size="17.0" textLength="19.77" lengthAdjust="spacingAndGlyphs">VS</text>
<text x="937.4" y="272.25" font-size="17.0" textLength="38.64" lengthAdjust="spacingAndGlyphs">JULY</text>
<text x="1040.7" y="232.25" font-size="17.0" textLength="67.5" lengthAdjust="spacingAndGlyphs">CHANGE</text>
<text x="1040.7" y="252.25" font-size="17.0" textLength="34.55" lengthAdjust="spacingAndGlyphs">AUG</text>
<text x="1083.43" y="252.25" font-size="17.0" textLength="19.77" lengthAdjust="spacingAndGlyphs">VS</text>
<text x="1040.7" y="272.25" font-size="17.0" textLength="42.62" lengthAdjust="spacingAndGlyphs">JUNE</text>
<text x="4.2" y="301.5" font-size="18.4" textLength="77.56" lengthAdjust="spacingAndGlyphs">SOLAPUR</text>
<text x="421.2" y="301.5" font-size="17.8" text-anchor="end" textLength="45.88" lengthAdjust="spacingAndGlyphs">6,850</text>
<text x="546.6" y="301.5" font-size="17.8" text-anchor="end" textLength="45.88" lengthAdjust="spacingAndGlyphs">6,850</text>
<text x="637.2" y="301.5" font-size="17.8" text-anchor="end" fill="#20A456" stroke="#20A456" textLength="10.28" lengthAdjust="spacingAndGlyphs">0</text>
<text x="742.5" y="301.5" font-size="17.8" text-anchor="end" textLength="45.19" lengthAdjust="spacingAndGlyphs">6,550</text>
<text x="836.3" y="301.5" font-size="17.8" text-anchor="end" textLength="44.69" lengthAdjust="spacingAndGlyphs">6,750</text>
<text x="930" y="301.5" font-size="17.8" text-anchor="end" textLength="44.11" lengthAdjust="spacingAndGlyphs">7,350</text>
<text x="1026.2" y="301.5" font-size="17.8" text-anchor="end" fill="#20A456" stroke="#20A456" textLength="30.36" lengthAdjust="spacingAndGlyphs">300</text>
<text x="1121.8" y="301.5" font-size="17.8" text-anchor="end" fill="#20A456" stroke="#20A456" textLength="29.39" lengthAdjust="spacingAndGlyphs">100</text>
<text x="4.2" y="325.4" font-size="18.4" textLength="55.14" lengthAdjust="spacingAndGlyphs">LATUR</text>
<text x="66.17" y="325.4" font-size="18.4" textLength="68.53" lengthAdjust="spacingAndGlyphs">MARUTI</text>
<text x="141.5" y="325.4" font-size="18.4" textLength="70.2" lengthAdjust="spacingAndGlyphs">(CLOSED</text>
<text x="218.52" y="325.4" font-size="18.4" textLength="62.19" lengthAdjust="spacingAndGlyphs">TODAY)</text>
<text x="421.2" y="325.4" font-size="17.8" text-anchor="end" textLength="45.53" lengthAdjust="spacingAndGlyphs">6,650</text>
<text x="546.6" y="325.4" font-size="17.8" text-anchor="end" textLength="45.53" lengthAdjust="spacingAndGlyphs">6,650</text>
<text x="637.2" y="325.4" font-size="17.8" text-anchor="end" fill="#20A456" stroke="#20A456" textLength="10.28" lengthAdjust="spacingAndGlyphs">0</text>
<text x="742.5" y="325.4" font-size="17.8" text-anchor="end" textLength="45.3" lengthAdjust="spacingAndGlyphs">6,630</text>
<text x="836.3" y="325.4" font-size="17.8" text-anchor="end" textLength="45.44" lengthAdjust="spacingAndGlyphs">6,500</text>
<text x="930" y="325.4" font-size="17.8" text-anchor="end" textLength="45.22" lengthAdjust="spacingAndGlyphs">7,400</text>
<text x="1026.2" y="325.4" font-size="17.8" text-anchor="end" fill="#20A456" stroke="#20A456" textLength="20.06" lengthAdjust="spacingAndGlyphs">20</text>
<text x="1121.8" y="325.4" font-size="17.8" text-anchor="end" fill="#20A456" stroke="#20A456" textLength="29.14" lengthAdjust="spacingAndGlyphs">150</text>
<text x="4.2" y="348.3" font-size="18.4" textLength="57.34" lengthAdjust="spacingAndGlyphs">AKOLA</text>
<text x="68.36" y="348.3" font-size="18.4" textLength="43.84" lengthAdjust="spacingAndGlyphs">BILTI</text>
<text x="119.02" y="348.3" font-size="18.4" textLength="70.2" lengthAdjust="spacingAndGlyphs">(CLOSED</text>
<text x="196.04" y="348.3" font-size="18.4" textLength="62.19" lengthAdjust="spacingAndGlyphs">TODAY)</text>
<text x="421.2" y="348.3" font-size="17.8" text-anchor="end" textLength="45.7" lengthAdjust="spacingAndGlyphs">6,900</text>
<text x="546.6" y="348.3" font-size="17.8" text-anchor="end" textLength="45.7" lengthAdjust="spacingAndGlyphs">6,900</text>
<text x="637.2" y="348.3" font-size="17.8" text-anchor="end" fill="#20A456" stroke="#20A456" textLength="10.28" lengthAdjust="spacingAndGlyphs">0</text>
<text x="742.5" y="348.3" font-size="17.8" text-anchor="end" textLength="45.7" lengthAdjust="spacingAndGlyphs">6,900</text>
<text x="836.3" y="348.3" font-size="17.8" text-anchor="end" textLength="45.88" lengthAdjust="spacingAndGlyphs">6,850</text>
<text x="930" y="348.3" font-size="17.8" text-anchor="end" textLength="44.69" lengthAdjust="spacingAndGlyphs">7,650</text>
<text x="1026.2" y="348.3" font-size="17.8" text-anchor="end" fill="#20A456" stroke="#20A456" textLength="10.28" lengthAdjust="spacingAndGlyphs">0</text>
<text x="1121.8" y="348.3" font-size="17.8" text-anchor="end" fill="#20A456" stroke="#20A456" textLength="20.31" lengthAdjust="spacingAndGlyphs">50</text>
<text x="4.2" y="371.3" font-size="18.4" textLength="73.44" lengthAdjust="spacingAndGlyphs">MUMBAI</text>
<text x="84.47" y="371.3" font-size="18.4" textLength="117.42" lengthAdjust="spacingAndGlyphs">MOZAMBIQUE</text>
<text x="421.2" y="371.3" font-size="17.8" text-anchor="end" textLength="44.58" lengthAdjust="spacingAndGlyphs">5,700</text>
<text x="546.6" y="371.3" font-size="17.8" text-anchor="end" textLength="44.58" lengthAdjust="spacingAndGlyphs">5,700</text>
<text x="637.2" y="371.3" font-size="17.8" text-anchor="end" fill="#20A456" stroke="#20A456" textLength="10.28" lengthAdjust="spacingAndGlyphs">0</text>
<text x="742.5" y="371.3" font-size="17.8" text-anchor="end" textLength="45.53" lengthAdjust="spacingAndGlyphs">5,850</text>
<text x="836.3" y="371.3" font-size="17.8" text-anchor="end" textLength="44.23" lengthAdjust="spacingAndGlyphs">6,100</text>
<text x="930" y="371.3" font-size="17.8" text-anchor="end" textLength="44.94" lengthAdjust="spacingAndGlyphs">6,700</text>
<text x="1033.2" y="371.3" font-size="17.8" text-anchor="end" fill="#CC1A1E" stroke="#CC1A1E" textLength="44.88" lengthAdjust="spacingAndGlyphs">(150)</text>
<text x="1128.8" y="371.3" font-size="17.8" text-anchor="end" fill="#CC1A1E" stroke="#CC1A1E" textLength="46.95" lengthAdjust="spacingAndGlyphs">(400)</text>
<text x="4.2" y="394.6" font-size="18.4" textLength="73.44" lengthAdjust="spacingAndGlyphs">MUMBAI</text>
<text x="84.47" y="394.6" font-size="18.4" textLength="59.94" lengthAdjust="spacingAndGlyphs">LEMON</text>
<text x="421.2" y="394.6" font-size="17.8" text-anchor="end" textLength="45.2" lengthAdjust="spacingAndGlyphs">6,300</text>
<text x="546.6" y="394.6" font-size="17.8" text-anchor="end" textLength="44.45" lengthAdjust="spacingAndGlyphs">6,325</text>
<text x="644.2" y="394.6" font-size="17.8" text-anchor="end" fill="#CC1A1E" stroke="#CC1A1E" textLength="35.55" lengthAdjust="spacingAndGlyphs">(25)</text>
<text x="742.5" y="394.6" font-size="17.8" text-anchor="end" textLength="44.45" lengthAdjust="spacingAndGlyphs">6,325</text>
<text x="836.3" y="394.6" font-size="17.8" text-anchor="end" textLength="43.98" lengthAdjust="spacingAndGlyphs">6,150</text>
<text x="930" y="394.6" font-size="17.8" text-anchor="end" textLength="45.88" lengthAdjust="spacingAndGlyphs">6,850</text>
<text x="1033.2" y="394.6" font-size="17.8" text-anchor="end" fill="#CC1A1E" stroke="#CC1A1E" textLength="35.55" lengthAdjust="spacingAndGlyphs">(25)</text>
<text x="1121.8" y="394.6" font-size="17.8" text-anchor="end" fill="#20A456" stroke="#20A456" textLength="29.14" lengthAdjust="spacingAndGlyphs">150</text>
<text x="4.2" y="417.9" font-size="18.4" textLength="76.66" lengthAdjust="spacingAndGlyphs">CHENNAI</text>
<text x="87.69" y="417.9" font-size="18.4" textLength="59.94" lengthAdjust="spacingAndGlyphs">LEMON</text>
<text x="421.2" y="417.9" font-size="17.8" text-anchor="end" textLength="45.2" lengthAdjust="spacingAndGlyphs">6,300</text>
<text x="546.6" y="417.9" font-size="17.8" text-anchor="end" textLength="44.95" lengthAdjust="spacingAndGlyphs">6,350</text>
<text x="644.2" y="417.9" font-size="17.8" text-anchor="end" fill="#CC1A1E" stroke="#CC1A1E" textLength="36.05" lengthAdjust="spacingAndGlyphs">(50)</text>
<text x="742.5" y="417.9" font-size="17.8" text-anchor="end" textLength="44.45" lengthAdjust="spacingAndGlyphs">6,325</text>
<text x="836.3" y="417.9" font-size="17.8" text-anchor="end" textLength="44.23" lengthAdjust="spacingAndGlyphs">6,100</text>
<text x="930" y="417.9" font-size="17.8" text-anchor="end" textLength="45.7" lengthAdjust="spacingAndGlyphs">6,900</text>
<text x="1033.2" y="417.9" font-size="17.8" text-anchor="end" fill="#CC1A1E" stroke="#CC1A1E" textLength="35.55" lengthAdjust="spacingAndGlyphs">(25)</text>
<text x="1121.8" y="417.9" font-size="17.8" text-anchor="end" fill="#20A456" stroke="#20A456" textLength="30.34" lengthAdjust="spacingAndGlyphs">200</text>
<text x="4.2" y="441" font-size="18.4" textLength="63.39" lengthAdjust="spacingAndGlyphs">BURMA</text>
<text x="74.41" y="441" font-size="18.4" textLength="40.83" lengthAdjust="spacingAndGlyphs">(C&amp;F</text>
<text x="122.05" y="441" font-size="18.4" textLength="19.09" lengthAdjust="spacingAndGlyphs">IN</text>
<text x="147.96" y="441" font-size="18.4" textLength="52.8" lengthAdjust="spacingAndGlyphs">$/MT)</text>
<text x="421.2" y="441" font-size="17.8" text-anchor="end" textLength="28.39" lengthAdjust="spacingAndGlyphs">715</text>
<text x="546.6" y="441" font-size="17.8" text-anchor="end" textLength="29.58" lengthAdjust="spacingAndGlyphs">720</text>
<text x="644.2" y="441" font-size="17.8" text-anchor="end" fill="#CC1A1E" stroke="#CC1A1E" textLength="25.77" lengthAdjust="spacingAndGlyphs">(5)</text>
<text x="742.5" y="441" font-size="17.8" text-anchor="end" textLength="29.58" lengthAdjust="spacingAndGlyphs">720</text>
<text x="836.3" y="441" font-size="17.8" text-anchor="end" textLength="29.33" lengthAdjust="spacingAndGlyphs">725</text>
<text x="930" y="441" font-size="17.8" text-anchor="end" textLength="29.86" lengthAdjust="spacingAndGlyphs">795</text>
<text x="1033.2" y="441" font-size="17.8" text-anchor="end" fill="#CC1A1E" stroke="#CC1A1E" textLength="25.77" lengthAdjust="spacingAndGlyphs">(5)</text>
<text x="1128.8" y="441" font-size="17.8" text-anchor="end" fill="#CC1A1E" stroke="#CC1A1E" textLength="34.84" lengthAdjust="spacingAndGlyphs">(10)</text>
<text x="105.5" y="474" font-size="28.2" textLength="76.92" lengthAdjust="spacingAndGlyphs" stroke-width="0.6">URAD</text>
<text x="194.09" y="474" font-size="28.2" textLength="99.94" lengthAdjust="spacingAndGlyphs" stroke-width="0.6">(BLACK</text>
<text x="305.69" y="474" font-size="28.2" textLength="102.81" lengthAdjust="spacingAndGlyphs" stroke-width="0.6">MATPE)</text>
<text x="420.17" y="474" font-size="28.2" textLength="78.34" lengthAdjust="spacingAndGlyphs" stroke-width="0.6">PRICE</text>
<text x="510.17" y="474" font-size="28.2" textLength="90.95" lengthAdjust="spacingAndGlyphs" stroke-width="0.6">TREND</text>
<text x="612.79" y="474" font-size="28.2" textLength="67.27" lengthAdjust="spacingAndGlyphs" stroke-width="0.6">(MSP</text>
<text x="691.71" y="474" font-size="28.2" textLength="57.14" lengthAdjust="spacingAndGlyphs" stroke-width="0.6">K-25</text>
<text x="760.51" y="474" font-size="28.2" textLength="38.95" lengthAdjust="spacingAndGlyphs" stroke-width="0.6">RS.</text>
<text x="811.13" y="474" font-size="28.2" textLength="76.02" lengthAdjust="spacingAndGlyphs" stroke-width="0.6">7800/</text>
<text x="898.82" y="474" font-size="28.2" textLength="129.5" lengthAdjust="spacingAndGlyphs" stroke-width="0.6">QUINTAL)</text>
<text x="4.6" y="520.6" font-size="18.4" textLength="73.2" lengthAdjust="spacingAndGlyphs">VARIETY</text>
<text x="361.75" y="521.8" font-size="23.2" text-anchor="middle" textLength="102.5" lengthAdjust="spacingAndGlyphs">22/08/25</text>
<text x="487.1" y="521.8" font-size="23.2" text-anchor="middle" textLength="102.5" lengthAdjust="spacingAndGlyphs">21/08/25</text>
<text x="598.65" y="520.3" font-size="17.2" text-anchor="middle" textLength="67" lengthAdjust="spacingAndGlyphs">CHANGE</text>
<text x="694" y="500.6" font-size="18.2" text-anchor="middle" textLength="38.39" lengthAdjust="spacingAndGlyphs">JULY</text>
<text x="694.2" y="520.6" font-size="18.2" text-anchor="middle" textLength="39.64" lengthAdjust="spacingAndGlyphs">2025</text>
<text x="696.6" y="540.6" font-size="18.2" text-anchor="middle" textLength="78" lengthAdjust="spacingAndGlyphs">AVERAGE</text>
<text x="790" y="500.6" font-size="18.2" text-anchor="middle" textLength="42.61" lengthAdjust="spacingAndGlyphs">JUNE</text>
<text x="790.2" y="520.6" font-size="18.2" text-anchor="middle" textLength="39.64" lengthAdjust="spacingAndGlyphs">2025</text>
<text x="792.6" y="540.6" font-size="18.2" text-anchor="middle" textLength="78" lengthAdjust="spacingAndGlyphs">AVERAGE</text>
<text x="883.75" y="500.6" font-size="18.2" text-anchor="middle" textLength="37.38" lengthAdjust="spacingAndGlyphs">MAY</text>
<text x="883.95" y="520.6" font-size="18.2" text-anchor="middle" textLength="39.64" lengthAdjust="spacingAndGlyphs">2025</text>
<text x="886.35" y="540.6" font-size="18.2" text-anchor="middle" textLength="78" lengthAdjust="spacingAndGlyphs">AVERAGE</text>
<text x="937.4" y="500.1" font-size="17.0" textLength="67.5" lengthAdjust="spacingAndGlyphs">CHANGE</text>
<text x="937.4" y="520.1" font-size="17.0" textLength="34.55" lengthAdjust="spacingAndGlyphs">AUG</text>
<text x="980.13" y="520.1" font-size="17.0" textLength="19.77" lengthAdjust="spacingAndGlyphs">VS</text>
<text x="937.4" y="540.1" font-size="17.0" textLength="38.64" lengthAdjust="spacingAndGlyphs">JULY</text>
<text x="1040.7" y="500.1" font-size="17.0" textLength="67.5" lengthAdjust="spacingAndGlyphs">CHANGE</text>
<text x="1040.7" y="520.1" font-size="17.0" textLength="34.55" lengthAdjust="spacingAndGlyphs">AUG</text>
<text x="1083.43" y="520.1" font-size="17.0" textLength="19.77" lengthAdjust="spacingAndGlyphs">VS</text>
<text x="1040.7" y="540.1" font-size="17.0" textLength="42.62" lengthAdjust="spacingAndGlyphs">JUNE</text>
<text x="4.2" y="564" font-size="18.4" textLength="55.14" lengthAdjust="spacingAndGlyphs">LATUR</text>
<text x="66.17" y="564" font-size="18.4" textLength="70.2" lengthAdjust="spacingAndGlyphs">(CLOSED</text>
<text x="143.19" y="564" font-size="18.4" textLength="62.19" lengthAdjust="spacingAndGlyphs">TODAY)</text>
<text x="421.2" y="564" font-size="17.8" text-anchor="end" textLength="44.58" lengthAdjust="spacingAndGlyphs">7,500</text>
<text x="546.6" y="564" font-size="17.8" text-anchor="end" textLength="44.58" lengthAdjust="spacingAndGlyphs">7,500</text>
<text x="637.2" y="564" font-size="17.8" text-anchor="end" fill="#20A456" stroke="#20A456" textLength="10.28" lengthAdjust="spacingAndGlyphs">0</text>
<text x="742.5" y="564" font-size="17.8" text-anchor="end" textLength="44.84" lengthAdjust="spacingAndGlyphs">7,000</text>
<text x="836.3" y="564" font-size="17.8" text-anchor="end" textLength="44.84" lengthAdjust="spacingAndGlyphs">7,000</text>
<text x="930" y="564" font-size="17.8" text-anchor="end" textLength="43.39" lengthAdjust="spacingAndGlyphs">7,100</text>
<text x="1026.2" y="564" font-size="17.8" text-anchor="end" fill="#20A456" stroke="#20A456" textLength="30.59" lengthAdjust="spacingAndGlyphs">500</text>
<text x="1121.8" y="564" font-size="17.8" text-anchor="end" fill="#20A456" stroke="#20A456" textLength="30.59" lengthAdjust="spacingAndGlyphs">500</text>
<text x="4.2" y="587.4" font-size="18.4" textLength="57.34" lengthAdjust="spacingAndGlyphs">AKOLA</text>
<text x="421.2" y="587.4" font-size="17.8" text-anchor="end" textLength="44.36" lengthAdjust="spacingAndGlyphs">7,300</text>
<text x="546.6" y="587.4" font-size="17.8" text-anchor="end" textLength="44.36" lengthAdjust="spacingAndGlyphs">7,300</text>
<text x="637.2" y="587.4" font-size="17.8" text-anchor="end" fill="#20A456" stroke="#20A456" textLength="10.28" lengthAdjust="spacingAndGlyphs">0</text>
<text x="742.5" y="587.4" font-size="17.8" text-anchor="end" textLength="44.33" lengthAdjust="spacingAndGlyphs">7,200</text>
<text x="836.3" y="587.4" font-size="17.8" text-anchor="end" textLength="44.33" lengthAdjust="spacingAndGlyphs">7,200</text>
<text x="930" y="587.4" font-size="17.8" text-anchor="end" textLength="44.11" lengthAdjust="spacingAndGlyphs">7,350</text>
<text x="1026.2" y="587.4" font-size="17.8" text-anchor="end" fill="#20A456" stroke="#20A456" textLength="29.39" lengthAdjust="spacingAndGlyphs">100</text>
<text x="1121.8" y="587.4" font-size="17.8" text-anchor="end" fill="#20A456" stroke="#20A456" textLength="29.39" lengthAdjust="spacingAndGlyphs">100</text>
<text x="4.2" y="610.4" font-size="18.4" textLength="73.44" lengthAdjust="spacingAndGlyphs">MUMBAI</text>
<text x="84.47" y="610.4" font-size="18.4" textLength="31.59" lengthAdjust="spacingAndGlyphs">FAQ</text>
<text x="421.2" y="610.4" font-size="17.8" text-anchor="end" textLength="45.22" lengthAdjust="spacingAndGlyphs">7,400</text>
<text x="546.6" y="610.4" font-size="17.8" text-anchor="end" textLength="44.11" lengthAdjust="spacingAndGlyphs">7,350</text>
<text x="637.2" y="610.4" font-size="17.8" text-anchor="end" fill="#20A456" stroke="#20A456" textLength="20.31" lengthAdjust="spacingAndGlyphs">50</text>
<text x="742.5" y="610.4" font-size="17.8" text-anchor="end" textLength="44.36" lengthAdjust="spacingAndGlyphs">7,300</text>
<text x="836.3" y="610.4" font-size="17.8" text-anchor="end" textLength="46.12" lengthAdjust="spacingAndGlyphs">6,800</text>
<text x="930" y="610.4" font-size="17.8" text-anchor="end" textLength="42.64" lengthAdjust="spacingAndGlyphs">7,125</text>
<text x="1026.2" y="610.4" font-size="17.8" text-anchor="end" fill="#20A456" stroke="#20A456" textLength="29.39" lengthAdjust="spacingAndGlyphs">100</text>
<text x="1121.8" y="610.4" font-size="17.8" text-anchor="end" fill="#20A456" stroke="#20A456" textLength="30.94" lengthAdjust="spacingAndGlyphs">600</text>
<text x="4.2" y="633.5" font-size="18.4" textLength="76.66" lengthAdjust="spacingAndGlyphs">CHENNAI</text>
<text x="87.69" y="633.5" font-size="18.4" textLength="31.59" lengthAdjust="spacingAndGlyphs">FAQ</text>
<text x="421.2" y="633.5" font-size="17.8" text-anchor="end" textLength="44.36" lengthAdjust="spacingAndGlyphs">7,300</text>
<text x="546.6" y="633.5" font-size="17.8" text-anchor="end" textLength="43.33" lengthAdjust="spacingAndGlyphs">7,275</text>
<text x="637.2" y="633.5" font-size="17.8" text-anchor="end" fill="#20A456" stroke="#20A456" textLength="19.81" lengthAdjust="spacingAndGlyphs">25</text>
<text x="742.5" y="633.5" font-size="17.8" text-anchor="end" textLength="44.36" lengthAdjust="spacingAndGlyphs">7,300</text>
<text x="836.3" y="633.5" font-size="17.8" text-anchor="end" textLength="45.03" lengthAdjust="spacingAndGlyphs">6,625</text>
<text x="930" y="633.5" font-size="17.8" text-anchor="end" textLength="44.08" lengthAdjust="spacingAndGlyphs">7,025</text>
<text x="1026.2" y="633.5" font-size="17.8" text-anchor="end" fill="#20A456" stroke="#20A456" textLength="10.28" lengthAdjust="spacingAndGlyphs">0</text>
<text x="1121.8" y="633.5" font-size="17.8" text-anchor="end" fill="#20A456" stroke="#20A456" textLength="29.94" lengthAdjust="spacingAndGlyphs">675</text>
<text x="4.2" y="656.5" font-size="18.4" textLength="76.66" lengthAdjust="spacingAndGlyphs">CHENNAI</text>
<text x="87.69" y="656.5" font-size="18.4" textLength="20.48" lengthAdjust="spacingAndGlyphs">SQ</text>
<text x="421.2" y="656.5" font-size="17.8" text-anchor="end" textLength="45.28" lengthAdjust="spacingAndGlyphs">7,800</text>
<text x="546.6" y="656.5" font-size="17.8" text-anchor="end" textLength="45.03" lengthAdjust="spacingAndGlyphs">7,850</text>
<text x="644.2" y="656.5" font-size="17.8" text-anchor="end" fill="#CC1A1E" stroke="#CC1A1E" textLength="36.05" lengthAdjust="spacingAndGlyphs">(50)</text>
<text x="742.5" y="656.5" font-size="17.8" text-anchor="end" textLength="43.94" lengthAdjust="spacingAndGlyphs">7,675</text>
<text x="836.3" y="656.5" font-size="17.8" text-anchor="end" textLength="43.61" lengthAdjust="spacingAndGlyphs">7,325</text>
<text x="930" y="656.5" font-size="17.8" text-anchor="end" textLength="44.69" lengthAdjust="spacingAndGlyphs">7,650</text>
<text x="1026.2" y="656.5" font-size="17.8" text-anchor="end" fill="#20A456" stroke="#20A456" textLength="28.64" lengthAdjust="spacingAndGlyphs">125</text>
<text x="1121.8" y="656.5" font-size="17.8" text-anchor="end" fill="#20A456" stroke="#20A456" textLength="30.22" lengthAdjust="spacingAndGlyphs">475</text>
<text x="4.2" y="679.8" font-size="18.4" textLength="84.25" lengthAdjust="spacingAndGlyphs">LALITPUR</text>
<text x="421.2" y="679.8" font-size="17.8" text-anchor="end" textLength="44.58" lengthAdjust="spacingAndGlyphs">7,500</text>
<text x="546.6" y="679.8" font-size="17.8" text-anchor="end" textLength="44.36" lengthAdjust="spacingAndGlyphs">7,300</text>
<text x="637.2" y="679.8" font-size="17.8" text-anchor="end" fill="#20A456" stroke="#20A456" textLength="30.34" lengthAdjust="spacingAndGlyphs">200</text>
<text x="742.5" y="679.8" font-size="17.8" text-anchor="end" textLength="44.58" lengthAdjust="spacingAndGlyphs">7,500</text>
<text x="836.3" y="679.8" font-size="17.8" text-anchor="end" textLength="45.78" lengthAdjust="spacingAndGlyphs">6,600</text>
<text x="930" y="679.8" font-size="17.8" text-anchor="end" textLength="45.2" lengthAdjust="spacingAndGlyphs">6,300</text>
<text x="1026.2" y="679.8" font-size="17.8" text-anchor="end" fill="#20A456" stroke="#20A456" textLength="10.28" lengthAdjust="spacingAndGlyphs">0</text>
<text x="1121.8" y="679.8" font-size="17.8" text-anchor="end" fill="#20A456" stroke="#20A456" textLength="30.86" lengthAdjust="spacingAndGlyphs">900</text>
<text x="4.2" y="703.5" font-size="18.4" textLength="63.39" lengthAdjust="spacingAndGlyphs">BURMA</text>
<text x="74.41" y="703.5" font-size="18.4" textLength="31.59" lengthAdjust="spacingAndGlyphs">FAQ</text>
<text x="112.82" y="703.5" font-size="18.4" textLength="40.83" lengthAdjust="spacingAndGlyphs">(C&amp;F</text>
<text x="160.46" y="703.5" font-size="18.4" textLength="52.8" lengthAdjust="spacingAndGlyphs">$/MT)</text>
<text x="421.2" y="703.5" font-size="17.8" text-anchor="end" textLength="30.28" lengthAdjust="spacingAndGlyphs">785</text>
<text x="546.6" y="703.5" font-size="17.8" text-anchor="end" textLength="29.78" lengthAdjust="spacingAndGlyphs">787</text>
<text x="644.2" y="703.5" font-size="17.8" text-anchor="end" fill="#CC1A1E" stroke="#CC1A1E" textLength="25.52" lengthAdjust="spacingAndGlyphs">(2)</text>
<text x="742.5" y="703.5" font-size="17.8" text-anchor="end" textLength="30.53" lengthAdjust="spacingAndGlyphs">780</text>
<text x="836.3" y="703.5" font-size="17.8" text-anchor="end" textLength="29.94" lengthAdjust="spacingAndGlyphs">765</text>
<text x="930" y="703.5" font-size="17.8" text-anchor="end" textLength="31.28" lengthAdjust="spacingAndGlyphs">800</text>
<text x="1026.2" y="703.5" font-size="17.8" text-anchor="end" fill="#20A456" stroke="#20A456" textLength="10.03" lengthAdjust="spacingAndGlyphs">5</text>
<text x="1121.8" y="703.5" font-size="17.8" text-anchor="end" fill="#20A456" stroke="#20A456" textLength="20.06" lengthAdjust="spacingAndGlyphs">20</text>
<text x="4.2" y="726.9" font-size="18.4" textLength="63.39" lengthAdjust="spacingAndGlyphs">BURMA</text>
<text x="74.41" y="726.9" font-size="18.4" textLength="20.48" lengthAdjust="spacingAndGlyphs">SQ</text>
<text x="101.71" y="726.9" font-size="18.4" textLength="40.83" lengthAdjust="spacingAndGlyphs">(C&amp;F</text>
<text x="149.35" y="726.9" font-size="18.4" textLength="52.8" lengthAdjust="spacingAndGlyphs">$/MT)</text>
<text x="421.2" y="726.9" font-size="17.8" text-anchor="end" textLength="31.12" lengthAdjust="spacingAndGlyphs">865</text>
<text x="546.6" y="726.9" font-size="17.8" text-anchor="end" textLength="30.62" lengthAdjust="spacingAndGlyphs">867</text>
<text x="644.2" y="726.9" font-size="17.8" text-anchor="end" fill="#CC1A1E" stroke="#CC1A1E" textLength="25.52" lengthAdjust="spacingAndGlyphs">(2)</text>
<text x="742.5" y="726.9" font-size="17.8" text-anchor="end" textLength="30.78" lengthAdjust="spacingAndGlyphs">855</text>
<text x="836.3" y="726.9" font-size="17.8" text-anchor="end" textLength="30.53" lengthAdjust="spacingAndGlyphs">825</text>
<text x="930" y="726.9" font-size="17.8" text-anchor="end" textLength="31.72" lengthAdjust="spacingAndGlyphs">880</text>
<text x="1026.2" y="726.9" font-size="17.8" text-anchor="end" fill="#20A456" stroke="#20A456" textLength="19.11" lengthAdjust="spacingAndGlyphs">10</text>
<text x="1121.8" y="726.9" font-size="17.8" text-anchor="end" fill="#20A456" stroke="#20A456" textLength="20.95" lengthAdjust="spacingAndGlyphs">40</text>
<text x="100.5" y="760.3" font-size="28.2" textLength="94.06" lengthAdjust="spacingAndGlyphs" stroke-width="0.6">CHANA</text>
<text x="206.24" y="760.3" font-size="28.2" textLength="92.05" lengthAdjust="spacingAndGlyphs" stroke-width="0.6">PRICES</text>
<text x="309.97" y="760.3" font-size="28.2" textLength="90.95" lengthAdjust="spacingAndGlyphs" stroke-width="0.6">TREND</text>
<text x="412.61" y="760.3" font-size="28.2" textLength="183.98" lengthAdjust="spacingAndGlyphs" stroke-width="0.6">COMPARISION</text>
<text x="608.27" y="760.3" font-size="28.2" textLength="67.27" lengthAdjust="spacingAndGlyphs" stroke-width="0.6">(MSP</text>
<text x="687.21" y="760.3" font-size="28.2" textLength="57.58" lengthAdjust="spacingAndGlyphs" stroke-width="0.6">R-24</text>
<text x="756.46" y="760.3" font-size="28.2" textLength="37.83" lengthAdjust="spacingAndGlyphs" stroke-width="0.6">Rs.</text>
<text x="805.96" y="760.3" font-size="28.2" textLength="75.88" lengthAdjust="spacingAndGlyphs" stroke-width="0.6">5650/</text>
<text x="893.52" y="760.3" font-size="28.2" textLength="129.5" lengthAdjust="spacingAndGlyphs" stroke-width="0.6">QUINTAL)</text>
<text x="4.6" y="805.8" font-size="18.4" textLength="73.2" lengthAdjust="spacingAndGlyphs">VARIETY</text>
<text x="361.75" y="807" font-size="23.2" text-anchor="middle" textLength="102.5" lengthAdjust="spacingAndGlyphs">22/08/25</text>
<text x="487.1" y="807" font-size="23.2" text-anchor="middle" textLength="102.5" lengthAdjust="spacingAndGlyphs">21/08/25</text>
<text x="598.65" y="805.5" font-size="17.2" text-anchor="middle" textLength="67" lengthAdjust="spacingAndGlyphs">CHANGE</text>
<text x="694" y="785.8" font-size="18.2" text-anchor="middle" textLength="38.39" lengthAdjust="spacingAndGlyphs">JULY</text>
<text x="694.2" y="805.8" font-size="18.2" text-anchor="middle" textLength="39.64" lengthAdjust="spacingAndGlyphs">2025</text>
<text x="696.6" y="825.8" font-size="18.2" text-anchor="middle" textLength="78" lengthAdjust="spacingAndGlyphs">AVERAGE</text>
<text x="790" y="785.8" font-size="18.2" text-anchor="middle" textLength="42.61" lengthAdjust="spacingAndGlyphs">JUNE</text>
<text x="790.2" y="805.8" font-size="18.2" text-anchor="middle" textLength="39.64" lengthAdjust="spacingAndGlyphs">2025</text>
<text x="792.6" y="825.8" font-size="18.2" text-anchor="middle" textLength="78" lengthAdjust="spacingAndGlyphs">AVERAGE</text>
<text x="883.75" y="785.8" font-size="18.2" text-anchor="middle" textLength="37.38" lengthAdjust="spacingAndGlyphs">MAY</text>
<text x="883.95" y="805.8" font-size="18.2" text-anchor="middle" textLength="39.64" lengthAdjust="spacingAndGlyphs">2025</text>
<text x="886.35" y="825.8" font-size="18.2" text-anchor="middle" textLength="78" lengthAdjust="spacingAndGlyphs">AVERAGE</text>
<text x="937.4" y="785.3" font-size="17.0" textLength="67.5" lengthAdjust="spacingAndGlyphs">CHANGE</text>
<text x="937.4" y="805.3" font-size="17.0" textLength="34.55" lengthAdjust="spacingAndGlyphs">AUG</text>
<text x="980.13" y="805.3" font-size="17.0" textLength="19.77" lengthAdjust="spacingAndGlyphs">VS</text>
<text x="937.4" y="825.3" font-size="17.0" textLength="38.64" lengthAdjust="spacingAndGlyphs">JULY</text>
<text x="1040.7" y="785.3" font-size="17.0" textLength="67.5" lengthAdjust="spacingAndGlyphs">CHANGE</text>
<text x="1040.7" y="805.3" font-size="17.0" textLength="34.55" lengthAdjust="spacingAndGlyphs">AUG</text>
<text x="1083.43" y="805.3" font-size="17.0" textLength="19.77" lengthAdjust="spacingAndGlyphs">VS</text>
<text x="1040.7" y="825.3" font-size="17.0" textLength="42.62" lengthAdjust="spacingAndGlyphs">JUNE</text>
<text x="4.2" y="849.1" font-size="18.4" textLength="51.94" lengthAdjust="spacingAndGlyphs">DELHI</text>
<text x="62.97" y="849.1" font-size="18.4" textLength="97.61" lengthAdjust="spacingAndGlyphs">RAJASTHAN</text>
<text x="421.2" y="849.1" font-size="17.8" text-anchor="end" textLength="45.19" lengthAdjust="spacingAndGlyphs">6,200</text>
<text x="546.6" y="849.1" font-size="17.8" text-anchor="end" textLength="43.98" lengthAdjust="spacingAndGlyphs">6,150</text>
<text x="637.2" y="849.1" font-size="17.8" text-anchor="end" fill="#20A456" stroke="#20A456" textLength="20.31" lengthAdjust="spacingAndGlyphs">50</text>
<text x="742.5" y="849.1" font-size="17.8" text-anchor="end" textLength="44.95" lengthAdjust="spacingAndGlyphs">6,350</text>
<text x="836.3" y="849.1" font-size="17.8" text-anchor="end" textLength="43.58" lengthAdjust="spacingAndGlyphs">5,775</text>
<text x="930" y="849.1" font-size="17.8" text-anchor="end" textLength="45.53" lengthAdjust="spacingAndGlyphs">5,850</text>
<text x="1033.2" y="849.1" font-size="17.8" text-anchor="end" fill="#CC1A1E" stroke="#CC1A1E" textLength="44.88" lengthAdjust="spacingAndGlyphs">(150)</text>
<text x="1121.8" y="849.1" font-size="17.8" text-anchor="end" fill="#20A456" stroke="#20A456" textLength="30.47" lengthAdjust="spacingAndGlyphs">425</text>
<text x="4.2" y="872.6" font-size="18.4" textLength="52.36" lengthAdjust="spacingAndGlyphs">KATNI</text>
<text x="421.2" y="872.6" font-size="17.8" text-anchor="end" textLength="44.23" lengthAdjust="spacingAndGlyphs">6,100</text>
<text x="546.6" y="872.6" font-size="17.8" text-anchor="end" textLength="43.98" lengthAdjust="spacingAndGlyphs">6,150</text>
<text x="644.2" y="872.6" font-size="17.8" text-anchor="end" fill="#CC1A1E" stroke="#CC1A1E" textLength="36.05" lengthAdjust="spacingAndGlyphs">(50)</text>
<text x="742.5" y="872.6" font-size="17.8" text-anchor="end" textLength="44.94" lengthAdjust="spacingAndGlyphs">6,250</text>
<text x="836.3" y="872.6" font-size="17.8" text-anchor="end" textLength="44.58" lengthAdjust="spacingAndGlyphs">5,700</text>
<text x="930" y="872.6" font-size="17.8" text-anchor="end" textLength="45.69" lengthAdjust="spacingAndGlyphs">6,000</text>
<text x="1033.2" y="872.6" font-size="17.8" text-anchor="end" fill="#CC1A1E" stroke="#CC1A1E" textLength="44.88" lengthAdjust="spacingAndGlyphs">(150)</text>
<text x="1121.8" y="872.6" font-size="17.8" text-anchor="end" fill="#20A456" stroke="#20A456" textLength="31.22" lengthAdjust="spacingAndGlyphs">400</text>
<text x="4.2" y="896" font-size="18.4" textLength="55.14" lengthAdjust="spacingAndGlyphs">LATUR</text>
<text x="66.17" y="896" font-size="18.4" textLength="83.73" lengthAdjust="spacingAndGlyphs">ANNAGIRI</text>
<text x="421.2" y="896" font-size="17.8" text-anchor="end" textLength="44.94" lengthAdjust="spacingAndGlyphs">6,025</text>
<text x="546.6" y="896" font-size="17.8" text-anchor="end" textLength="44.94" lengthAdjust="spacingAndGlyphs">6,025</text>
<text x="637.2" y="896" font-size="17.8" text-anchor="end" fill="#20A456" stroke="#20A456" textLength="10.28" lengthAdjust="spacingAndGlyphs">0</text>
<text x="742.5" y="896" font-size="17.8" text-anchor="end" textLength="46.08" lengthAdjust="spacingAndGlyphs">6,400</text>
<text x="836.3" y="896" font-size="17.8" text-anchor="end" textLength="45.44" lengthAdjust="spacingAndGlyphs">5,600</text>
<text x="930" y="896" font-size="17.8" text-anchor="end" textLength="45.78" lengthAdjust="spacingAndGlyphs">5,800</text>
<text x="1033.2" y="896" font-size="17.8" text-anchor="end" fill="#CC1A1E" stroke="#CC1A1E" textLength="45.09" lengthAdjust="spacingAndGlyphs">(375)</text>
<text x="1121.8" y="896" font-size="17.8" text-anchor="end" fill="#20A456" stroke="#20A456" textLength="30.47" lengthAdjust="spacingAndGlyphs">425</text>
<text x="4.2" y="919" font-size="18.4" textLength="73.44" lengthAdjust="spacingAndGlyphs">MUMBAI</text>
<text x="84.47" y="919" font-size="18.4" textLength="86.44" lengthAdjust="spacingAndGlyphs">TANZANIA</text>
<text x="421.2" y="919" font-size="17.8" text-anchor="end" textLength="44.94" lengthAdjust="spacingAndGlyphs">6,025</text>
<text x="546.6" y="919" font-size="17.8" text-anchor="end" textLength="45.69" lengthAdjust="spacingAndGlyphs">6,000</text>
<text x="637.2" y="919" font-size="17.8" text-anchor="end" fill="#20A456" stroke="#20A456" textLength="19.81" lengthAdjust="spacingAndGlyphs">25</text>
<text x="742.5" y="919" font-size="17.8" text-anchor="end" textLength="44.44" lengthAdjust="spacingAndGlyphs">6,225</text>
<text x="836.3" y="919" font-size="17.8" text-anchor="end" textLength="45.09" lengthAdjust="spacingAndGlyphs">5,500</text>
<text x="930" y="919" font-size="17.8" text-anchor="end" textLength="45.19" lengthAdjust="spacingAndGlyphs">5,650</text>
<text x="1033.2" y="919" font-size="17.8" text-anchor="end" fill="#CC1A1E" stroke="#CC1A1E" textLength="46.08" lengthAdjust="spacingAndGlyphs">(200)</text>
<text x="1121.8" y="919" font-size="17.8" text-anchor="end" fill="#20A456" stroke="#20A456" textLength="29.83" lengthAdjust="spacingAndGlyphs">525</text>
<text x="4.2" y="941.9" font-size="18.4" textLength="73.44" lengthAdjust="spacingAndGlyphs">MUMBAI</text>
<text x="84.47" y="941.9" font-size="18.4" textLength="94.95" lengthAdjust="spacingAndGlyphs">AUSTRALIA</text>
<text x="421.2" y="941.9" font-size="17.8" text-anchor="end" textLength="43.48" lengthAdjust="spacingAndGlyphs">6,125</text>
<text x="546.6" y="941.9" font-size="17.8" text-anchor="end" textLength="44.69" lengthAdjust="spacingAndGlyphs">6,075</text>
<text x="637.2" y="941.9" font-size="17.8" text-anchor="end" fill="#20A456" stroke="#20A456" textLength="20.31" lengthAdjust="spacingAndGlyphs">50</text>
<text x="742.5" y="941.9" font-size="17.8" text-anchor="end" textLength="44.45" lengthAdjust="spacingAndGlyphs">6,325</text>
<text x="836.3" y="941.9" font-size="17.8" text-anchor="end" textLength="45.19" lengthAdjust="spacingAndGlyphs">5,650</text>
<text x="930" y="941.9" font-size="17.8" text-anchor="end" textLength="45.03" lengthAdjust="spacingAndGlyphs">5,825</text>
<text x="1033.2" y="941.9" font-size="17.8" text-anchor="end" fill="#CC1A1E" stroke="#CC1A1E" textLength="46.08" lengthAdjust="spacingAndGlyphs">(200)</text>
<text x="1121.8" y="941.9" font-size="17.8" text-anchor="end" fill="#20A456" stroke="#20A456" textLength="30.22" lengthAdjust="spacingAndGlyphs">475</text>
<text x="4.2" y="965.4" font-size="18.4" textLength="82.78" lengthAdjust="spacingAndGlyphs">LALTIPUR</text>
<text x="421.2" y="965.4" font-size="17.8" text-anchor="end" textLength="45.44" lengthAdjust="spacingAndGlyphs">5,600</text>
<text x="546.6" y="965.4" font-size="17.8" text-anchor="end" textLength="45.44" lengthAdjust="spacingAndGlyphs">5,600</text>
<text x="637.2" y="965.4" font-size="17.8" text-anchor="end" fill="#20A456" stroke="#20A456" textLength="10.28" lengthAdjust="spacingAndGlyphs">0</text>
<text x="742.5" y="965.4" font-size="17.8" text-anchor="end" textLength="44.23" lengthAdjust="spacingAndGlyphs">6,100</text>
<text x="836.3" y="965.4" font-size="17.8" text-anchor="end" textLength="45.09" lengthAdjust="spacingAndGlyphs">5,500</text>
<text x="930" y="965.4" font-size="17.8" text-anchor="end" textLength="45.19" lengthAdjust="spacingAndGlyphs">5,650</text>
<text x="1033.2" y="965.4" font-size="17.8" text-anchor="end" fill="#CC1A1E" stroke="#CC1A1E" textLength="46.33" lengthAdjust="spacingAndGlyphs">(500)</text>
<text x="1121.8" y="965.4" font-size="17.8" text-anchor="end" fill="#20A456" stroke="#20A456" textLength="29.39" lengthAdjust="spacingAndGlyphs">100</text>
<text x="313.3" y="998" font-size="28.2" textLength="92.11" lengthAdjust="spacingAndGlyphs" stroke-width="0.6">MATAR</text>
<text x="417.09" y="998" font-size="28.2" textLength="121.89" lengthAdjust="spacingAndGlyphs" stroke-width="0.6">(YELLOW</text>
<text x="550.67" y="998" font-size="28.2" textLength="63.98" lengthAdjust="spacingAndGlyphs" stroke-width="0.6">PEA)</text>
<text x="626.32" y="998" font-size="28.2" textLength="92.05" lengthAdjust="spacingAndGlyphs" stroke-width="0.6">PRICES</text>
<text x="730.06" y="998" font-size="28.2" textLength="90.95" lengthAdjust="spacingAndGlyphs" stroke-width="0.6">TREND</text>
<text x="4.6" y="1043.85" font-size="18.4" textLength="73.2" lengthAdjust="spacingAndGlyphs">VARIETY</text>
<text x="361.75" y="1045.05" font-size="23.2" text-anchor="middle" textLength="102.5" lengthAdjust="spacingAndGlyphs">22/08/25</text>
<text x="487.1" y="1045.05" font-size="23.2" text-anchor="middle" textLength="102.5" lengthAdjust="spacingAndGlyphs">21/08/25</text>
<text x="598.65" y="1043.55" font-size="17.2" text-anchor="middle" textLength="67" lengthAdjust="spacingAndGlyphs">CHANGE</text>
<text x="694" y="1023.85" font-size="18.2" text-anchor="middle" textLength="38.39" lengthAdjust="spacingAndGlyphs">JULY</text>
<text x="694.2" y="1043.85" font-size="18.2" text-anchor="middle" textLength="39.64" lengthAdjust="spacingAndGlyphs">2025</text>
<text x="696.6" y="1063.85" font-size="18.2" text-anchor="middle" textLength="78" lengthAdjust="spacingAndGlyphs">AVERAGE</text>
<text x="790" y="1023.85" font-size="18.2" text-anchor="middle" textLength="42.61" lengthAdjust="spacingAndGlyphs">JUNE</text>
<text x="790.2" y="1043.85" font-size="18.2" text-anchor="middle" textLength="39.64" lengthAdjust="spacingAndGlyphs">2025</text>
<text x="792.6" y="1063.85" font-size="18.2" text-anchor="middle" textLength="78" lengthAdjust="spacingAndGlyphs">AVERAGE</text>
<text x="883.75" y="1023.85" font-size="18.2" text-anchor="middle" textLength="37.38" lengthAdjust="spacingAndGlyphs">MAY</text>
<text x="883.95" y="1043.85" font-size="18.2" text-anchor="middle" textLength="39.64" lengthAdjust="spacingAndGlyphs">2025</text>
<text x="886.35" y="1063.85" font-size="18.2" text-anchor="middle" textLength="78" lengthAdjust="spacingAndGlyphs">AVERAGE</text>
<text x="937.4" y="1023.35" font-size="17.0" textLength="67.5" lengthAdjust="spacingAndGlyphs">CHANGE</text>
<text x="937.4" y="1043.35" font-size="17.0" textLength="34.55" lengthAdjust="spacingAndGlyphs">AUG</text>
<text x="980.13" y="1043.35" font-size="17.0" textLength="19.77" lengthAdjust="spacingAndGlyphs">VS</text>
<text x="937.4" y="1063.35" font-size="17.0" textLength="38.64" lengthAdjust="spacingAndGlyphs">JULY</text>
<text x="1040.7" y="1023.35" font-size="17.0" textLength="67.5" lengthAdjust="spacingAndGlyphs">CHANGE</text>
<text x="1040.7" y="1043.35" font-size="17.0" textLength="34.55" lengthAdjust="spacingAndGlyphs">AUG</text>
<text x="1083.43" y="1043.35" font-size="17.0" textLength="19.77" lengthAdjust="spacingAndGlyphs">VS</text>
<text x="1040.7" y="1063.35" font-size="17.0" textLength="42.62" lengthAdjust="spacingAndGlyphs">JUNE</text>
<text x="4.2" y="1087.3" font-size="18.4" textLength="72.16" lengthAdjust="spacingAndGlyphs">KANPUR</text>
<text x="83.19" y="1087.3" font-size="18.4" textLength="48.03" lengthAdjust="spacingAndGlyphs">BILTY</text>
<text x="138.03" y="1087.3" font-size="18.4" textLength="32.2" lengthAdjust="spacingAndGlyphs">M.P.</text>
<text x="183.87" y="1087.3" font-size="18.4" textLength="13.53" lengthAdjust="spacingAndGlyphs">&amp;</text>
<text x="204.22" y="1087.3" font-size="18.4" textLength="28.86" lengthAdjust="spacingAndGlyphs">U.P.</text>
<text x="421.2" y="1087.3" font-size="17.8" text-anchor="end" textLength="44.86" lengthAdjust="spacingAndGlyphs">3,500</text>
<text x="546.6" y="1087.3" font-size="17.8" text-anchor="end" textLength="44.61" lengthAdjust="spacingAndGlyphs">3,550</text>
<text x="644.2" y="1087.3" font-size="17.8" text-anchor="end" fill="#CC1A1E" stroke="#CC1A1E" textLength="36.05" lengthAdjust="spacingAndGlyphs">(50)</text>
<text x="742.5" y="1087.3" font-size="17.8" text-anchor="end" textLength="44.95" lengthAdjust="spacingAndGlyphs">3,650</text>
<text x="836.3" y="1087.3" font-size="17.8" text-anchor="end" textLength="43.86" lengthAdjust="spacingAndGlyphs">3,575</text>
<text x="930" y="1087.3" font-size="17.8" text-anchor="end" textLength="44.8" lengthAdjust="spacingAndGlyphs">3,825</text>
<text x="1033.2" y="1087.3" font-size="17.8" text-anchor="end" fill="#CC1A1E" stroke="#CC1A1E" textLength="44.88" lengthAdjust="spacingAndGlyphs">(150)</text>
<text x="1128.8" y="1087.3" font-size="17.8" text-anchor="end" fill="#CC1A1E" stroke="#CC1A1E" textLength="35.3" lengthAdjust="spacingAndGlyphs">(75)</text>
<text x="4.2" y="1111" font-size="18.4" textLength="84.25" lengthAdjust="spacingAndGlyphs">LALITPUR</text>
<text x="421.2" y="1111" font-size="17.8" text-anchor="end" textLength="43.86" lengthAdjust="spacingAndGlyphs">3,225</text>
<text x="546.6" y="1111" font-size="17.8" text-anchor="end" textLength="44.61" lengthAdjust="spacingAndGlyphs">3,200</text>
<text x="637.2" y="1111" font-size="17.8" text-anchor="end" fill="#20A456" stroke="#20A456" textLength="19.81" lengthAdjust="spacingAndGlyphs">25</text>
<text x="742.5" y="1111" font-size="17.8" text-anchor="end" textLength="44.61" lengthAdjust="spacingAndGlyphs">3,200</text>
<text x="836.3" y="1111" font-size="17.8" text-anchor="end" textLength="43.66" lengthAdjust="spacingAndGlyphs">3,100</text>
<text x="930" y="1111" font-size="17.8" text-anchor="end" textLength="44.61" lengthAdjust="spacingAndGlyphs">3,550</text>
<text x="1026.2" y="1111" font-size="17.8" text-anchor="end" fill="#20A456" stroke="#20A456" textLength="19.81" lengthAdjust="spacingAndGlyphs">25</text>
<text x="1121.8" y="1111" font-size="17.8" text-anchor="end" fill="#20A456" stroke="#20A456" textLength="28.64" lengthAdjust="spacingAndGlyphs">125</text>
<text x="4.2" y="1134.1" font-size="18.4" textLength="42.02" lengthAdjust="spacingAndGlyphs">ORAI</text>
<text x="421.2" y="1134.1" font-size="17.8" text-anchor="end" textLength="44.86" lengthAdjust="spacingAndGlyphs">3,050</text>
<text x="546.6" y="1134.1" font-size="17.8" text-anchor="end" textLength="44.86" lengthAdjust="spacingAndGlyphs">3,050</text>
<text x="637.2" y="1134.1" font-size="17.8" text-anchor="end" fill="#20A456" stroke="#20A456" textLength="10.28" lengthAdjust="spacingAndGlyphs">0</text>
<text x="742.5" y="1134.1" font-size="17.8" text-anchor="end" textLength="44.62" lengthAdjust="spacingAndGlyphs">3,300</text>
<text x="836.3" y="1134.1" font-size="17.8" text-anchor="end" textLength="43.66" lengthAdjust="spacingAndGlyphs">3,100</text>
<text x="930" y="1134.1" font-size="17.8" text-anchor="end" textLength="44.61" lengthAdjust="spacingAndGlyphs">3,550</text>
<text x="1033.2" y="1134.1" font-size="17.8" text-anchor="end" fill="#CC1A1E" stroke="#CC1A1E" textLength="45.81" lengthAdjust="spacingAndGlyphs">(250)</text>
<text x="1128.8" y="1134.1" font-size="17.8" text-anchor="end" fill="#CC1A1E" stroke="#CC1A1E" textLength="36.05" lengthAdjust="spacingAndGlyphs">(50)</text>
<text x="4.2" y="1157" font-size="18.4" textLength="73.44" lengthAdjust="spacingAndGlyphs">MUMBAI</text>
<text x="84.47" y="1157" font-size="18.4" textLength="69.64" lengthAdjust="spacingAndGlyphs">CANADA</text>
<text x="421.2" y="1157" font-size="17.8" text-anchor="end" textLength="45.23" lengthAdjust="spacingAndGlyphs">3,450</text>
<text x="546.6" y="1157" font-size="17.8" text-anchor="end" textLength="45.23" lengthAdjust="spacingAndGlyphs">3,450</text>
<text x="637.2" y="1157" font-size="17.8" text-anchor="end" fill="#20A456" stroke="#20A456" textLength="10.28" lengthAdjust="spacingAndGlyphs">0</text>
<text x="742.5" y="1157" font-size="17.8" text-anchor="end" textLength="44.61" lengthAdjust="spacingAndGlyphs">3,550</text>
<text x="836.3" y="1157" font-size="17.8" text-anchor="end" textLength="43.86" lengthAdjust="spacingAndGlyphs">3,575</text>
<text x="930" y="1157" font-size="17.8" text-anchor="end" textLength="45.2" lengthAdjust="spacingAndGlyphs">3,600</text>
<text x="1033.2" y="1157" font-size="17.8" text-anchor="end" fill="#CC1A1E" stroke="#CC1A1E" textLength="45.12" lengthAdjust="spacingAndGlyphs">(100)</text>
<text x="1128.8" y="1157" font-size="17.8" text-anchor="end" fill="#CC1A1E" stroke="#CC1A1E" textLength="44.38" lengthAdjust="spacingAndGlyphs">(125)</text>
<text x="4.2" y="1180" font-size="18.4" textLength="73.44" lengthAdjust="spacingAndGlyphs">MUMBAI</text>
<text x="84.47" y="1180" font-size="18.4" textLength="59.64" lengthAdjust="spacingAndGlyphs">RUSSIA</text>
<text x="421.2" y="1180" font-size="17.8" text-anchor="end" textLength="44.61" lengthAdjust="spacingAndGlyphs">3,200</text>
<text x="546.6" y="1180" font-size="17.8" text-anchor="end" textLength="44.61" lengthAdjust="spacingAndGlyphs">3,200</text>
<text x="637.2" y="1180" font-size="17.8" text-anchor="end" fill="#20A456" stroke="#20A456" textLength="10.28" lengthAdjust="spacingAndGlyphs">0</text>
<text x="742.5" y="1180" font-size="17.8" text-anchor="end" textLength="43.88" lengthAdjust="spacingAndGlyphs">3,325</text>
<text x="836.3" y="1180" font-size="17.8" text-anchor="end" textLength="44.73" lengthAdjust="spacingAndGlyphs">3,425</text>
<text x="930" y="1180" font-size="17.8" text-anchor="end" textLength="44.86" lengthAdjust="spacingAndGlyphs">3,500</text>
<text x="1033.2" y="1180" font-size="17.8" text-anchor="end" fill="#CC1A1E" stroke="#CC1A1E" textLength="44.38" lengthAdjust="spacingAndGlyphs">(125)</text>
<text x="1128.8" y="1180" font-size="17.8" text-anchor="end" fill="#CC1A1E" stroke="#CC1A1E" textLength="45.31" lengthAdjust="spacingAndGlyphs">(225)</text>
<text x="4.2" y="1203.1" font-size="18.4" textLength="76.48" lengthAdjust="spacingAndGlyphs">MUNDRA</text>
<text x="87.5" y="1203.1" font-size="18.4" textLength="69.64" lengthAdjust="spacingAndGlyphs">CANADA</text>
<text x="421.2" y="1203.1" font-size="17.8" text-anchor="end" textLength="44.36" lengthAdjust="spacingAndGlyphs">3,250</text>
<text x="546.6" y="1203.1" font-size="17.8" text-anchor="end" textLength="44.36" lengthAdjust="spacingAndGlyphs">3,250</text>
<text x="637.2" y="1203.1" font-size="17.8" text-anchor="end" fill="#20A456" stroke="#20A456" textLength="10.28" lengthAdjust="spacingAndGlyphs">0</text>
<text x="742.5" y="1203.1" font-size="17.8" text-anchor="end" textLength="45.48" lengthAdjust="spacingAndGlyphs">3,400</text>
<text x="836.3" y="1203.1" font-size="17.8" text-anchor="end" textLength="43.88" lengthAdjust="spacingAndGlyphs">3,325</text>
<text x="930" y="1203.1" font-size="17.8" text-anchor="end" textLength="45.2" lengthAdjust="spacingAndGlyphs">3,600</text>
<text x="1033.2" y="1203.1" font-size="17.8" text-anchor="end" fill="#CC1A1E" stroke="#CC1A1E" textLength="44.88" lengthAdjust="spacingAndGlyphs">(150)</text>
<text x="1128.8" y="1203.1" font-size="17.8" text-anchor="end" fill="#CC1A1E" stroke="#CC1A1E" textLength="35.3" lengthAdjust="spacingAndGlyphs">(75)</text>
<text x="4.2" y="1226.1" font-size="18.4" textLength="76.48" lengthAdjust="spacingAndGlyphs">MUNDRA</text>
<text x="87.5" y="1226.1" font-size="18.4" textLength="59.64" lengthAdjust="spacingAndGlyphs">RUSSIA</text>
<text x="421.2" y="1226.1" font-size="17.8" text-anchor="end" textLength="43.41" lengthAdjust="spacingAndGlyphs">3,150</text>
<text x="546.6" y="1226.1" font-size="17.8" text-anchor="end" textLength="43.41" lengthAdjust="spacingAndGlyphs">3,150</text>
<text x="637.2" y="1226.1" font-size="17.8" text-anchor="end" fill="#20A456" stroke="#20A456" textLength="10.28" lengthAdjust="spacingAndGlyphs">0</text>
<text x="742.5" y="1226.1" font-size="17.8" text-anchor="end" textLength="44.36" lengthAdjust="spacingAndGlyphs">3,250</text>
<text x="836.3" y="1226.1" font-size="17.8" text-anchor="end" textLength="43.86" lengthAdjust="spacingAndGlyphs">3,225</text>
<text x="930" y="1226.1" font-size="17.8" text-anchor="end" textLength="44.86" lengthAdjust="spacingAndGlyphs">3,500</text>
<text x="1033.2" y="1226.1" font-size="17.8" text-anchor="end" fill="#CC1A1E" stroke="#CC1A1E" textLength="45.12" lengthAdjust="spacingAndGlyphs">(100)</text>
<text x="1128.8" y="1226.1" font-size="17.8" text-anchor="end" fill="#CC1A1E" stroke="#CC1A1E" textLength="35.3" lengthAdjust="spacingAndGlyphs">(75)</text>
<text x="4.2" y="1249.5" font-size="18.4" textLength="76.48" lengthAdjust="spacingAndGlyphs">MUNDRA</text>
<text x="87.5" y="1249.5" font-size="18.4" textLength="46.62" lengthAdjust="spacingAndGlyphs">BULK</text>
<text x="140.94" y="1249.5" font-size="18.4" textLength="40.83" lengthAdjust="spacingAndGlyphs">(C&amp;F</text>
<text x="188.58" y="1249.5" font-size="18.4" textLength="52.8" lengthAdjust="spacingAndGlyphs">$/MT)</text>
<text x="421.2" y="1249.5" font-size="17.8" text-anchor="end" textLength="29.62" lengthAdjust="spacingAndGlyphs">335</text>
<text x="546.6" y="1249.5" font-size="17.8" text-anchor="end" textLength="29.62" lengthAdjust="spacingAndGlyphs">335</text>
<text x="637.2" y="1249.5" font-size="17.8" text-anchor="end" fill="#20A456" stroke="#20A456" textLength="10.28" lengthAdjust="spacingAndGlyphs">0</text>
<text x="1026.2" y="1249.5" font-size="17.8" text-anchor="end" fill="#20A456" stroke="#20A456" textLength="29.62" lengthAdjust="spacingAndGlyphs">335</text>
<text x="1121.8" y="1249.5" font-size="17.8" text-anchor="end" fill="#20A456" stroke="#20A456" textLength="29.62" lengthAdjust="spacingAndGlyphs">335</text>
<text x="4.2" y="1273.4" font-size="18.4" textLength="76.81" lengthAdjust="spacingAndGlyphs">KOLKATA</text>
<text x="87.83" y="1273.4" font-size="18.4" textLength="46.62" lengthAdjust="spacingAndGlyphs">BULK</text>
<text x="141.27" y="1273.4" font-size="18.4" textLength="40.83" lengthAdjust="spacingAndGlyphs">(C&amp;F</text>
<text x="188.91" y="1273.4" font-size="18.4" textLength="52.8" lengthAdjust="spacingAndGlyphs">$/MT)</text>
<text x="421.2" y="1273.4" font-size="17.8" text-anchor="end" textLength="30.48" lengthAdjust="spacingAndGlyphs">345</text>
<text x="546.6" y="1273.4" font-size="17.8" text-anchor="end" textLength="30.48" lengthAdjust="spacingAndGlyphs">345</text>
<text x="637.2" y="1273.4" font-size="17.8" text-anchor="end" fill="#20A456" stroke="#20A456" textLength="10.28" lengthAdjust="spacingAndGlyphs">0</text>
<text x="1026.2" y="1273.4" font-size="17.8" text-anchor="end" fill="#20A456" stroke="#20A456" textLength="30.48" lengthAdjust="spacingAndGlyphs">345</text>
<text x="1121.8" y="1273.4" font-size="17.8" text-anchor="end" fill="#20A456" stroke="#20A456" textLength="30.48" lengthAdjust="spacingAndGlyphs">345</text>
</g>
</svg>
</body></html>
